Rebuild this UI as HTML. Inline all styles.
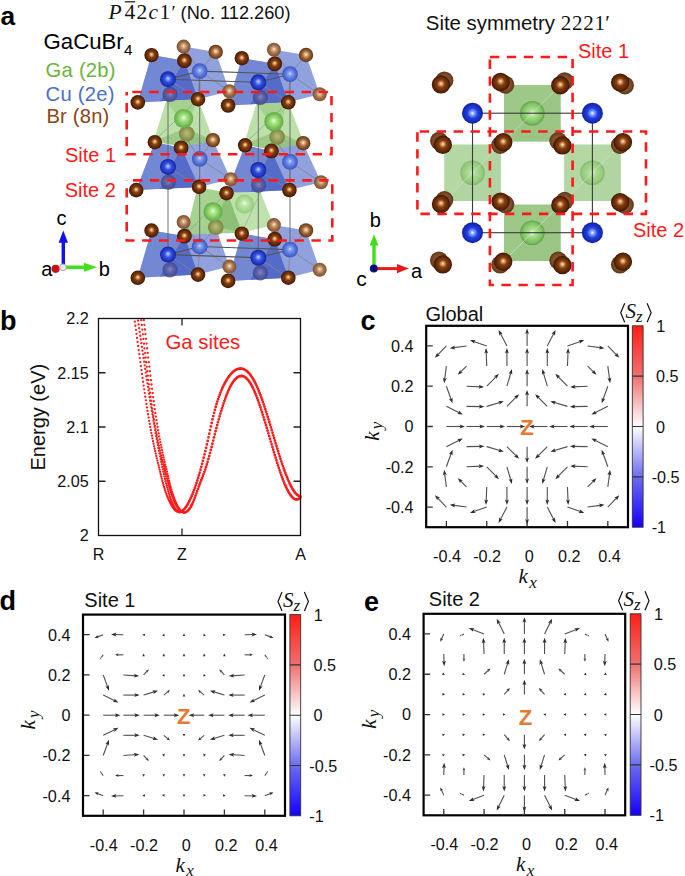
<!DOCTYPE html>
<html><head><meta charset="utf-8"><style>
html,body{margin:0;padding:0;background:#fff;}
svg{display:block;}
</style></head><body>
<svg width="685" height="876" viewBox="0 0 685 876">
<defs>
<radialGradient id="brD" cx="0.5" cy="0.5" r="0.5" fx="0.5" fy="0.45">
 <stop offset="0" stop-color="#fff4d8"/><stop offset="0.15" stop-color="#e2a46c"/><stop offset="0.42" stop-color="#86400f"/><stop offset="0.82" stop-color="#5a2406"/><stop offset="1" stop-color="#3a1503"/></radialGradient>
<radialGradient id="brM" cx="0.5" cy="0.5" r="0.5" fx="0.5" fy="0.45">
 <stop offset="0" stop-color="#fff6e4"/><stop offset="0.18" stop-color="#e6bb8c"/><stop offset="0.5" stop-color="#a66a3a"/><stop offset="0.9" stop-color="#6e3c18"/><stop offset="1" stop-color="#5a3012"/></radialGradient>
<radialGradient id="brL" cx="0.5" cy="0.5" r="0.5" fx="0.5" fy="0.45">
 <stop offset="0" stop-color="#fff4e6"/><stop offset="0.18" stop-color="#e0b890"/><stop offset="0.55" stop-color="#a97650"/><stop offset="1" stop-color="#7a4e30"/></radialGradient>
<radialGradient id="brB" cx="0.5" cy="0.5" r="0.5">
 <stop offset="0" stop-color="#a06a40"/><stop offset="0.7" stop-color="#7a4a28"/><stop offset="1" stop-color="#5a3418"/></radialGradient>
<radialGradient id="cuB" cx="0.5" cy="0.5" r="0.5" fx="0.5" fy="0.45">
 <stop offset="0" stop-color="#eef2ff"/><stop offset="0.14" stop-color="#8aa4ff"/><stop offset="0.45" stop-color="#3050e0"/><stop offset="0.85" stop-color="#1c30b8"/><stop offset="1" stop-color="#142490"/></radialGradient>
<radialGradient id="cuL" cx="0.5" cy="0.5" r="0.5" fx="0.5" fy="0.45">
 <stop offset="0" stop-color="#dde6ff"/><stop offset="0.2" stop-color="#8ca4f2"/><stop offset="0.6" stop-color="#5a78dc"/><stop offset="1" stop-color="#3c56c0"/></radialGradient>
<radialGradient id="cuD" cx="0.5" cy="0.5" r="0.5" fx="0.5" fy="0.45">
 <stop offset="0" stop-color="#8a8cc8"/><stop offset="0.5" stop-color="#5a5c9c"/><stop offset="1" stop-color="#3e4080"/></radialGradient>
<radialGradient id="gaB" cx="0.5" cy="0.5" r="0.5" fx="0.5" fy="0.45">
 <stop offset="0" stop-color="#f4fff0"/><stop offset="0.2" stop-color="#b8ee98"/><stop offset="0.6" stop-color="#86cc62"/><stop offset="1" stop-color="#62a848"/></radialGradient>
<radialGradient id="gaD" cx="0.5" cy="0.5" r="0.5" fx="0.5" fy="0.45">
 <stop offset="0" stop-color="#b8c07a"/><stop offset="0.6" stop-color="#949c54"/><stop offset="1" stop-color="#7a8240"/></radialGradient>
<radialGradient id="gaL" cx="0.5" cy="0.5" r="0.5" fx="0.5" fy="0.45">
 <stop offset="0" stop-color="#eeffe8"/><stop offset="0.3" stop-color="#bfe8a8"/><stop offset="1" stop-color="#94cc7c"/></radialGradient>
<radialGradient id="gaT" cx="0.5" cy="0.5" r="0.5" fx="0.5" fy="0.5">
 <stop offset="0" stop-color="#f4ffec"/><stop offset="0.25" stop-color="#ade494"/><stop offset="0.8" stop-color="#7cc25e"/><stop offset="1" stop-color="#5e9e46"/></radialGradient>
<radialGradient id="cuT" cx="0.5" cy="0.5" r="0.5" fx="0.5" fy="0.5">
 <stop offset="0" stop-color="#ffffff"/><stop offset="0.18" stop-color="#8aa8ff"/><stop offset="0.5" stop-color="#2040e0"/><stop offset="0.9" stop-color="#1426b0"/><stop offset="1" stop-color="#101e90"/></radialGradient>
<linearGradient id="cbg" x1="0" y1="0" x2="0" y2="1">
 <stop offset="0" stop-color="#ff1e14"/><stop offset="0.25" stop-color="#f07070"/><stop offset="0.5" stop-color="#ffffff"/><stop offset="0.75" stop-color="#6c6cf0"/><stop offset="1" stop-color="#1400ff"/></linearGradient>
</defs>
<rect width="685" height="876" fill="#fff"/>
<polygon points="151.50,55.10 184.40,60.70 183.60,46.60 215.70,51.90 229.40,91.20 198.00,99.20 137.80,102.40" fill="#8597da" fill-opacity="0.9" stroke="none" stroke-width="0"/>
<polygon points="151.50,55.10 184.40,60.70 198.00,99.20 137.80,102.40" fill="#6d84d4" fill-opacity="0.85" stroke="none" stroke-width="0"/>
<polygon points="184.40,60.70 198.00,99.20 160.00,101.20" fill="#4a62c6" fill-opacity="0.75" stroke="none" stroke-width="0"/>
<polygon points="241.80,58.20 274.70,63.80 273.90,49.70 306.00,55.00 319.70,94.30 288.30,102.30 228.10,105.50" fill="#8597da" fill-opacity="0.9" stroke="none" stroke-width="0"/>
<polygon points="241.80,58.20 274.70,63.80 288.30,102.30 228.10,105.50" fill="#6d84d4" fill-opacity="0.85" stroke="none" stroke-width="0"/>
<polygon points="274.70,63.80 288.30,102.30 250.30,104.30" fill="#4a62c6" fill-opacity="0.75" stroke="none" stroke-width="0"/>
<polygon points="154.80,142.20 181.10,147.80 183.60,134.30 212.90,140.10 230.70,179.20 199.10,186.90 136.20,190.10" fill="#8597da" fill-opacity="0.9" stroke="none" stroke-width="0"/>
<polygon points="154.80,142.20 181.10,147.80 199.10,186.90 136.20,190.10" fill="#6d84d4" fill-opacity="0.85" stroke="none" stroke-width="0"/>
<polygon points="181.10,147.80 199.10,186.90 160.00,188.90" fill="#4a62c6" fill-opacity="0.75" stroke="none" stroke-width="0"/>
<polygon points="245.10,145.30 271.40,150.90 273.90,137.40 303.20,143.20 321.00,182.30 289.40,190.00 226.50,193.20" fill="#8597da" fill-opacity="0.9" stroke="none" stroke-width="0"/>
<polygon points="245.10,145.30 271.40,150.90 289.40,190.00 226.50,193.20" fill="#6d84d4" fill-opacity="0.85" stroke="none" stroke-width="0"/>
<polygon points="271.40,150.90 289.40,190.00 250.30,192.00" fill="#4a62c6" fill-opacity="0.75" stroke="none" stroke-width="0"/>
<polygon points="151.50,230.50 184.40,236.10 183.60,222.00 215.70,227.30 229.40,266.60 198.00,274.60 137.80,277.80" fill="#8597da" fill-opacity="0.9" stroke="none" stroke-width="0"/>
<polygon points="151.50,230.50 184.40,236.10 198.00,274.60 137.80,277.80" fill="#6d84d4" fill-opacity="0.85" stroke="none" stroke-width="0"/>
<polygon points="184.40,236.10 198.00,274.60 160.00,276.60" fill="#4a62c6" fill-opacity="0.75" stroke="none" stroke-width="0"/>
<polygon points="241.80,233.60 274.70,239.20 273.90,225.10 306.00,230.40 319.70,269.70 288.30,277.70 228.10,280.90" fill="#8597da" fill-opacity="0.9" stroke="none" stroke-width="0"/>
<polygon points="241.80,233.60 274.70,239.20 288.30,277.70 228.10,280.90" fill="#6d84d4" fill-opacity="0.85" stroke="none" stroke-width="0"/>
<polygon points="274.70,239.20 288.30,277.70 250.30,279.70" fill="#4a62c6" fill-opacity="0.75" stroke="none" stroke-width="0"/>
<polygon points="166.00,101.00 198.00,99.20 213.50,140.50 182.00,146.50 153.50,141.50" fill="#b0da9a" fill-opacity="0.85" stroke="none" stroke-width="0"/>
<polygon points="166.00,101.00 198.00,99.20 186.00,128.00" fill="#8cc070" fill-opacity="0.45" stroke="none" stroke-width="0"/>
<polygon points="153.50,141.50 186.00,128.00 213.50,140.50 182.00,146.50" fill="#7fb466" fill-opacity="0.5" stroke="none" stroke-width="0"/>
<polygon points="256.30,104.10 288.30,102.30 303.80,143.60 272.30,149.60 243.80,144.60" fill="#b0da9a" fill-opacity="0.85" stroke="none" stroke-width="0"/>
<polygon points="256.30,104.10 288.30,102.30 276.30,131.10" fill="#8cc070" fill-opacity="0.45" stroke="none" stroke-width="0"/>
<polygon points="243.80,144.60 276.30,131.10 303.80,143.60 272.30,149.60" fill="#7fb466" fill-opacity="0.5" stroke="none" stroke-width="0"/>
<polygon points="197.50,187.30 227.30,192.50 260.50,192.00 273.50,225.00 242.00,232.80 186.00,234.50" fill="#b6dea2" fill-opacity="0.88" stroke="none" stroke-width="0"/>
<polygon points="197.50,187.30 227.30,192.50 242.00,232.80 186.00,234.50" fill="#98ca80" fill-opacity="0.6" stroke="none" stroke-width="0"/>
<polygon points="227.30,192.50 242.00,232.80 214.00,226.00" fill="#74ae5c" fill-opacity="0.5" stroke="none" stroke-width="0"/>
<path d="M168.00 79.20L168.00 254.60" stroke="#5c5c5c" stroke-width="1.0" stroke-opacity="0.85" fill="none"/>
<path d="M258.30 82.30L258.30 257.70" stroke="#5c5c5c" stroke-width="1.0" stroke-opacity="0.85" fill="none"/>
<path d="M290.00 74.20L290.00 249.60" stroke="#5c5c5c" stroke-width="1.0" stroke-opacity="0.85" fill="none"/>
<path d="M199.70 71.10L199.70 246.50" stroke="#5c5c5c" stroke-width="1.0" stroke-opacity="0.85" fill="none"/>
<path d="M151.50 55.10L168.00 79.20L198.00 99.20" stroke="#8a8a8a" stroke-width="0.8" stroke-opacity="0.9" fill="none"/>
<path d="M184.40 60.70L168.00 79.20L137.80 102.40" stroke="#8a8a8a" stroke-width="0.8" stroke-opacity="0.9" fill="none"/>
<path d="M183.60 46.60L199.70 71.10L229.40 91.20" stroke="#7a7a7a" stroke-width="0.8" stroke-opacity="0.8" fill="none"/>
<path d="M215.70 51.90L199.70 71.10L198.00 99.20" stroke="#7a7a7a" stroke-width="0.8" stroke-opacity="0.8" fill="none"/>
<path d="M241.80 58.20L258.30 82.30L288.30 102.30" stroke="#8a8a8a" stroke-width="0.8" stroke-opacity="0.9" fill="none"/>
<path d="M274.70 63.80L258.30 82.30L228.10 105.50" stroke="#8a8a8a" stroke-width="0.8" stroke-opacity="0.9" fill="none"/>
<path d="M273.90 49.70L290.00 74.20L319.70 94.30" stroke="#7a7a7a" stroke-width="0.8" stroke-opacity="0.8" fill="none"/>
<path d="M306.00 55.00L290.00 74.20L288.30 102.30" stroke="#7a7a7a" stroke-width="0.8" stroke-opacity="0.8" fill="none"/>
<path d="M154.80 142.20L168.00 166.90L199.10 186.90" stroke="#8a8a8a" stroke-width="0.8" stroke-opacity="0.9" fill="none"/>
<path d="M181.10 147.80L168.00 166.90L136.20 190.10" stroke="#8a8a8a" stroke-width="0.8" stroke-opacity="0.9" fill="none"/>
<path d="M183.60 134.30L199.70 158.80L230.70 179.20" stroke="#7a7a7a" stroke-width="0.8" stroke-opacity="0.8" fill="none"/>
<path d="M212.90 140.10L199.70 158.80L199.10 186.90" stroke="#7a7a7a" stroke-width="0.8" stroke-opacity="0.8" fill="none"/>
<path d="M245.10 145.30L258.30 170.00L289.40 190.00" stroke="#8a8a8a" stroke-width="0.8" stroke-opacity="0.9" fill="none"/>
<path d="M271.40 150.90L258.30 170.00L226.50 193.20" stroke="#8a8a8a" stroke-width="0.8" stroke-opacity="0.9" fill="none"/>
<path d="M273.90 137.40L290.00 161.90L321.00 182.30" stroke="#7a7a7a" stroke-width="0.8" stroke-opacity="0.8" fill="none"/>
<path d="M303.20 143.20L290.00 161.90L289.40 190.00" stroke="#7a7a7a" stroke-width="0.8" stroke-opacity="0.8" fill="none"/>
<path d="M151.50 230.50L168.00 254.60L198.00 274.60" stroke="#8a8a8a" stroke-width="0.8" stroke-opacity="0.9" fill="none"/>
<path d="M184.40 236.10L168.00 254.60L137.80 277.80" stroke="#8a8a8a" stroke-width="0.8" stroke-opacity="0.9" fill="none"/>
<path d="M183.60 222.00L199.70 246.50L229.40 266.60" stroke="#7a7a7a" stroke-width="0.8" stroke-opacity="0.8" fill="none"/>
<path d="M215.70 227.30L199.70 246.50L198.00 274.60" stroke="#7a7a7a" stroke-width="0.8" stroke-opacity="0.8" fill="none"/>
<path d="M241.80 233.60L258.30 257.70L288.30 277.70" stroke="#8a8a8a" stroke-width="0.8" stroke-opacity="0.9" fill="none"/>
<path d="M274.70 239.20L258.30 257.70L228.10 280.90" stroke="#8a8a8a" stroke-width="0.8" stroke-opacity="0.9" fill="none"/>
<path d="M273.90 225.10L290.00 249.60L319.70 269.70" stroke="#7a7a7a" stroke-width="0.8" stroke-opacity="0.8" fill="none"/>
<path d="M306.00 230.40L290.00 249.60L288.30 277.70" stroke="#7a7a7a" stroke-width="0.8" stroke-opacity="0.8" fill="none"/>
<path d="M168.00 79.20L258.30 82.30L290.00 74.20L199.70 71.10L168.00 79.20" stroke="#555" stroke-width="1.1" stroke-opacity="1.0" fill="none"/>
<path d="M168.00 254.60L258.30 257.70L290.00 249.60L199.70 246.50L168.00 254.60" stroke="#555" stroke-width="1.1" stroke-opacity="1.0" fill="none"/>
<path d="M153.50 141.50L198.00 99.20" stroke="#8a9a80" stroke-width="0.8" stroke-opacity="0.8" fill="none"/>
<path d="M243.80 144.60L288.30 102.30" stroke="#8a9a80" stroke-width="0.8" stroke-opacity="0.8" fill="none"/>
<path d="M184.40 235.40L226.80 192.80" stroke="#8a9a80" stroke-width="0.8" stroke-opacity="0.8" fill="none"/>
<path d="M242.00 232.40L260.50 192.00" stroke="#8a9a80" stroke-width="0.8" stroke-opacity="0.6" fill="none"/>
<circle cx="186.80" cy="133.80" r="7.8" fill="url(#gaD)"/>
<circle cx="183.60" cy="118.50" r="9.6" fill="url(#gaB)"/>
<circle cx="277.10" cy="136.90" r="7.8" fill="url(#gaD)"/>
<circle cx="273.90" cy="121.60" r="9.6" fill="url(#gaB)"/>
<circle cx="244.50" cy="204.00" r="9.6" fill="url(#gaL)"/>
<circle cx="215.70" cy="227.30" r="7.8" fill="url(#gaD)"/>
<circle cx="213.00" cy="211.80" r="9.6" fill="url(#gaB)"/>
<circle cx="183.60" cy="46.60" r="7.0" fill="url(#brL)"/>
<circle cx="229.40" cy="91.20" r="7.0" fill="url(#brL)"/>
<circle cx="199.70" cy="71.10" r="7.9" fill="url(#cuL)"/>
<circle cx="170.00" cy="94.40" r="7.6" fill="url(#cuD)" fill-opacity="0.8"/>
<circle cx="273.90" cy="49.70" r="7.0" fill="url(#brL)"/>
<circle cx="319.70" cy="94.30" r="7.0" fill="url(#brL)"/>
<circle cx="290.00" cy="74.20" r="7.9" fill="url(#cuL)"/>
<circle cx="260.30" cy="97.50" r="7.6" fill="url(#cuD)" fill-opacity="0.8"/>
<circle cx="230.70" cy="179.20" r="7.0" fill="url(#brL)"/>
<circle cx="199.70" cy="158.80" r="7.9" fill="url(#cuL)"/>
<circle cx="168.30" cy="182.10" r="7.6" fill="url(#cuD)" fill-opacity="0.8"/>
<circle cx="321.00" cy="182.30" r="7.0" fill="url(#brL)"/>
<circle cx="290.00" cy="161.90" r="7.9" fill="url(#cuL)"/>
<circle cx="258.60" cy="185.20" r="7.6" fill="url(#cuD)" fill-opacity="0.8"/>
<circle cx="183.60" cy="222.00" r="7.0" fill="url(#brL)"/>
<circle cx="229.40" cy="266.60" r="7.0" fill="url(#brL)"/>
<circle cx="199.70" cy="246.50" r="7.9" fill="url(#cuL)"/>
<circle cx="170.00" cy="269.80" r="7.6" fill="url(#cuD)" fill-opacity="0.8"/>
<circle cx="273.90" cy="225.10" r="7.0" fill="url(#brL)"/>
<circle cx="319.70" cy="269.70" r="7.0" fill="url(#brL)"/>
<circle cx="290.00" cy="249.60" r="7.9" fill="url(#cuL)"/>
<circle cx="260.30" cy="272.90" r="7.6" fill="url(#cuD)" fill-opacity="0.8"/>
<circle cx="168.00" cy="79.20" r="8.0" fill="url(#cuB)"/>
<circle cx="151.50" cy="55.10" r="7.2" fill="url(#brD)"/>
<circle cx="215.70" cy="51.90" r="7.2" fill="url(#brM)"/>
<circle cx="184.40" cy="60.70" r="7.4" fill="url(#brD)"/>
<circle cx="137.80" cy="102.40" r="7.3" fill="url(#brD)"/>
<circle cx="198.00" cy="99.20" r="7.3" fill="url(#brD)"/>
<circle cx="258.30" cy="82.30" r="8.0" fill="url(#cuB)"/>
<circle cx="241.80" cy="58.20" r="7.2" fill="url(#brD)"/>
<circle cx="306.00" cy="55.00" r="7.2" fill="url(#brM)"/>
<circle cx="274.70" cy="63.80" r="7.4" fill="url(#brD)"/>
<circle cx="228.10" cy="105.50" r="7.3" fill="url(#brD)"/>
<circle cx="288.30" cy="102.30" r="7.3" fill="url(#brD)"/>
<circle cx="168.00" cy="166.90" r="8.0" fill="url(#cuB)"/>
<circle cx="154.80" cy="142.20" r="7.2" fill="url(#brD)"/>
<circle cx="212.90" cy="140.10" r="7.2" fill="url(#brM)"/>
<circle cx="181.10" cy="147.80" r="7.4" fill="url(#brD)"/>
<circle cx="136.20" cy="190.10" r="7.3" fill="url(#brD)"/>
<circle cx="199.10" cy="186.90" r="7.3" fill="url(#brD)"/>
<circle cx="258.30" cy="170.00" r="8.0" fill="url(#cuB)"/>
<circle cx="245.10" cy="145.30" r="7.2" fill="url(#brD)"/>
<circle cx="303.20" cy="143.20" r="7.2" fill="url(#brM)"/>
<circle cx="271.40" cy="150.90" r="7.4" fill="url(#brD)"/>
<circle cx="226.50" cy="193.20" r="7.3" fill="url(#brD)"/>
<circle cx="289.40" cy="190.00" r="7.3" fill="url(#brD)"/>
<circle cx="168.00" cy="254.60" r="8.0" fill="url(#cuB)"/>
<circle cx="151.50" cy="230.50" r="7.2" fill="url(#brD)"/>
<circle cx="184.40" cy="236.10" r="7.4" fill="url(#brD)"/>
<circle cx="137.80" cy="277.80" r="7.3" fill="url(#brD)"/>
<circle cx="198.00" cy="274.60" r="7.3" fill="url(#brD)"/>
<circle cx="258.30" cy="257.70" r="8.0" fill="url(#cuB)"/>
<circle cx="241.80" cy="233.60" r="7.2" fill="url(#brD)"/>
<circle cx="306.00" cy="230.40" r="7.2" fill="url(#brM)"/>
<circle cx="274.70" cy="239.20" r="7.4" fill="url(#brD)"/>
<circle cx="228.10" cy="280.90" r="7.3" fill="url(#brD)"/>
<circle cx="288.30" cy="277.70" r="7.3" fill="url(#brD)"/>
<polygon points="504.00,84.90 560.60,84.90 560.60,141.50 504.00,141.50" fill="#9ec887" fill-opacity="1" stroke="none" stroke-width="0"/>
<polygon points="560.60,84.90 560.60,141.50 504.00,141.50" fill="#98c282" fill-opacity="0.5" stroke="none" stroke-width="0"/>
<polygon points="444.20,144.50 500.80,144.50 500.80,201.10 444.20,201.10" fill="#b4d8a4" fill-opacity="1" stroke="none" stroke-width="0"/>
<polygon points="500.80,144.50 500.80,201.10 444.20,201.10" fill="#aed29c" fill-opacity="0.5" stroke="none" stroke-width="0"/>
<polygon points="564.10,144.50 620.70,144.50 620.70,201.10 564.10,201.10" fill="#b4d8a4" fill-opacity="1" stroke="none" stroke-width="0"/>
<polygon points="620.70,144.50 620.70,201.10 564.10,201.10" fill="#aed29c" fill-opacity="0.5" stroke="none" stroke-width="0"/>
<polygon points="504.00,204.40 560.60,204.40 560.60,261.00 504.00,261.00" fill="#9ec887" fill-opacity="1" stroke="none" stroke-width="0"/>
<polygon points="560.60,204.40 560.60,261.00 504.00,261.00" fill="#98c282" fill-opacity="0.5" stroke="none" stroke-width="0"/>
<circle cx="532.3" cy="113.2" r="12.3" fill="url(#gaT)" fill-opacity="0.95"/>
<circle cx="472.5" cy="172.8" r="12.3" fill="url(#gaT)" fill-opacity="0.55"/>
<circle cx="592.4" cy="172.8" r="12.3" fill="url(#gaT)" fill-opacity="0.55"/>
<circle cx="532.3" cy="232.7" r="12.3" fill="url(#gaT)" fill-opacity="0.95"/>
<path d="M504.00 141.50L560.60 84.90" stroke="#d8e4d0" stroke-width="0.9" stroke-opacity="0.7" fill="none"/>
<path d="M444.20 201.10L500.80 144.50" stroke="#d8e4d0" stroke-width="0.9" stroke-opacity="0.7" fill="none"/>
<path d="M564.10 201.10L620.70 144.50" stroke="#d8e4d0" stroke-width="0.9" stroke-opacity="0.7" fill="none"/>
<path d="M504.00 261.00L560.60 204.40" stroke="#d8e4d0" stroke-width="0.9" stroke-opacity="0.7" fill="none"/>
<rect x="472.5" y="113.2" width="119.9" height="119.5" fill="none" stroke="#3a3a3a" stroke-width="1.1"/>
<circle cx="472.50" cy="113.20" r="10.5" fill="url(#cuT)"/>
<circle cx="592.40" cy="113.20" r="10.5" fill="url(#cuT)"/>
<circle cx="472.50" cy="232.70" r="10.5" fill="url(#cuT)"/>
<circle cx="592.40" cy="232.70" r="10.5" fill="url(#cuT)"/>
<circle cx="444.40" cy="80.40" r="9.0" fill="url(#brB)"/>
<circle cx="444.40" cy="200.00" r="9.0" fill="url(#brB)"/>
<circle cx="505.30" cy="84.70" r="9.0" fill="url(#brB)"/>
<circle cx="505.30" cy="204.30" r="9.0" fill="url(#brB)"/>
<circle cx="564.70" cy="81.20" r="9.0" fill="url(#brB)"/>
<circle cx="564.70" cy="200.80" r="9.0" fill="url(#brB)"/>
<circle cx="624.90" cy="85.40" r="9.0" fill="url(#brB)"/>
<circle cx="624.90" cy="205.00" r="9.0" fill="url(#brB)"/>
<circle cx="439.00" cy="140.80" r="9.0" fill="url(#brB)"/>
<circle cx="439.00" cy="260.40" r="9.0" fill="url(#brB)"/>
<circle cx="500.20" cy="145.00" r="9.0" fill="url(#brB)"/>
<circle cx="500.20" cy="264.60" r="9.0" fill="url(#brB)"/>
<circle cx="558.30" cy="141.00" r="9.0" fill="url(#brB)"/>
<circle cx="558.30" cy="260.60" r="9.0" fill="url(#brB)"/>
<circle cx="619.90" cy="145.00" r="9.0" fill="url(#brB)"/>
<circle cx="619.90" cy="264.60" r="9.0" fill="url(#brB)"/>
<circle cx="441.00" cy="84.40" r="9.2" fill="url(#brD)"/>
<circle cx="441.00" cy="204.00" r="9.2" fill="url(#brD)"/>
<circle cx="500.60" cy="82.00" r="9.2" fill="url(#brD)"/>
<circle cx="500.60" cy="201.60" r="9.2" fill="url(#brD)"/>
<circle cx="560.30" cy="85.30" r="9.2" fill="url(#brD)"/>
<circle cx="560.30" cy="204.90" r="9.2" fill="url(#brD)"/>
<circle cx="620.20" cy="82.60" r="9.2" fill="url(#brD)"/>
<circle cx="620.20" cy="202.20" r="9.2" fill="url(#brD)"/>
<circle cx="442.80" cy="144.80" r="9.2" fill="url(#brD)"/>
<circle cx="442.80" cy="264.40" r="9.2" fill="url(#brD)"/>
<circle cx="503.20" cy="142.20" r="9.2" fill="url(#brD)"/>
<circle cx="503.20" cy="261.80" r="9.2" fill="url(#brD)"/>
<circle cx="562.40" cy="145.40" r="9.2" fill="url(#brD)"/>
<circle cx="562.40" cy="265.00" r="9.2" fill="url(#brD)"/>
<circle cx="622.90" cy="142.20" r="9.2" fill="url(#brD)"/>
<circle cx="622.90" cy="261.80" r="9.2" fill="url(#brD)"/>
<rect x="126.7" y="92.0" width="204.8" height="62.19999999999999" fill="none" stroke="#ff1a1a" stroke-width="2.6" stroke-dasharray="9.4 7.53" stroke-dashoffset="11.33"/>
<rect x="126.7" y="180.4" width="205.60000000000002" height="60.099999999999994" fill="none" stroke="#ff1a1a" stroke-width="2.6" stroke-dasharray="9.4 7.53" stroke-dashoffset="10.6"/>
<rect x="489.9" y="57.0" width="82.70000000000005" height="228.0" fill="none" stroke="#ff1a1a" stroke-width="2.6" stroke-dasharray="9.4 7.53" stroke-dashoffset="0"/>
<rect x="417.4" y="131.5" width="228.60000000000002" height="82.4" fill="none" stroke="#ff1a1a" stroke-width="2.6" stroke-dasharray="9.4 7.53" stroke-dashoffset="14.6"/>
<text x="0.4" y="25.4" font-size="26.3" font-family="Liberation Sans, sans-serif" font-weight="bold" fill="#000">a</text>
<text x="108.5" y="18.7" font-size="21.5" letter-spacing="1.3" font-family="Liberation Serif, serif" fill="#111"><tspan font-style="italic">P</tspan><tspan dx="1.5">4</tspan><tspan>2</tspan><tspan font-style="italic">c</tspan><tspan>1</tspan><tspan font-size="19">′</tspan></text>
<path d="M124.8 1.8h10.4" stroke="#111" stroke-width="1.2"/>
<text x="180.6" y="18.7" font-size="18.2" font-family="Liberation Sans, sans-serif" fill="#111">(No. 112.260)</text>
<text x="43.6" y="49.0" font-size="22.2" font-family="Liberation Sans, sans-serif" fill="#000">GaCuBr<tspan font-size="15.2" dy="5.7" dx="0.3">4</tspan></text>
<text x="45.6" y="76.9" font-size="20.2" letter-spacing="0.25" font-family="Liberation Sans, sans-serif" fill="#6ab43c">Ga (2b)</text>
<text x="45.6" y="100.7" font-size="20.2" letter-spacing="0.25" font-family="Liberation Sans, sans-serif" fill="#4a70c8">Cu (2e)</text>
<text x="46.4" y="123.1" font-size="20.2" letter-spacing="0.2" font-family="Liberation Sans, sans-serif" fill="#8c4414">Br (8n)</text>
<text x="65.0" y="162.0" font-size="20" font-family="Liberation Sans, sans-serif" fill="#ff1a1a">Site 1</text>
<text x="64.7" y="196.7" font-size="20" font-family="Liberation Sans, sans-serif" fill="#ff1a1a">Site 2</text>
<text x="425.8" y="29.8" font-size="20.4" font-family="Liberation Sans, sans-serif" fill="#111">Site symmetry <tspan font-family="Liberation Serif, serif" font-size="21" dx="0" letter-spacing="0.8">2221</tspan><tspan font-family="Liberation Serif, serif" font-size="21" dx="-0.5">′</tspan></text>
<text x="578" y="58" font-size="20" font-family="Liberation Sans, sans-serif" fill="#ff1a1a">Site 1</text>
<text x="633" y="237.2" font-size="20" font-family="Liberation Sans, sans-serif" fill="#ff1a1a">Site 2</text>
<path d="M63.3 267.5V241" stroke="#1010f0" stroke-width="3.4"/>
<path d="M63.3 230.6L58.6 242.8H68Z" fill="#1010f0"/>
<path d="M66 267.3H85" stroke="#40e018" stroke-width="3.6"/>
<path d="M97 267.3L84 262.8V271.8Z" fill="#40e018"/>
<circle cx="55.6" cy="268.8" r="4.1" fill="#cc1010"/>
<circle cx="63" cy="267.3" r="3.4" fill="#e8e8e8" stroke="#999" stroke-width="0.8"/>
<text x="56.4" y="225.2" font-size="20" font-family="Liberation Sans, sans-serif" fill="#000">c</text>
<text x="98.8" y="276.2" font-size="20" font-family="Liberation Sans, sans-serif" fill="#000">b</text>
<text x="41.2" y="276.4" font-size="20" font-family="Liberation Sans, sans-serif" fill="#000">a</text>
<path d="M374 267V244" stroke="#40e018" stroke-width="3.4"/>
<path d="M374 234.2L369.6 245.5H378.4Z" fill="#40e018"/>
<path d="M376 268.6H398" stroke="#e81a1a" stroke-width="3"/>
<path d="M408.8 268.6L397 264V273.2Z" fill="#e81a1a"/>
<circle cx="373.8" cy="268.6" r="4" fill="#1010a0"/>
<path d="M375.4 266.4a2 2 0 1 0 0 4.2" stroke="#000" stroke-width="1.4" fill="none"/>
<text x="369.7" y="226.6" font-size="20" font-family="Liberation Sans, sans-serif" fill="#000">b</text>
<text x="411" y="277.6" font-size="20" font-family="Liberation Sans, sans-serif" fill="#000">a</text>
<text x="356.2" y="285.6" font-size="21" font-family="Liberation Sans, sans-serif" fill="#000">c</text>
<path d="M134.85 321.70h0M135.40 325.73h0M135.95 329.78h0M136.50 333.83h0M137.05 337.89h0M137.60 341.94h0M138.15 346.00h0M138.70 350.05h0M139.25 354.08h0M139.80 358.11h0M140.35 362.11h0M140.90 366.10h0M141.45 370.05h0M142.00 373.98h0M142.55 377.88h0M143.10 381.74h0M143.65 385.56h0M144.20 389.33h0M144.75 393.06h0M145.30 396.74h0M145.85 400.37h0M146.40 403.94h0M146.95 407.45h0M147.50 410.89h0M148.05 414.26h0M148.60 417.57h0M149.15 420.80h0M149.70 423.95h0M150.25 427.02h0M150.80 430.00h0M151.35 432.90h0M151.90 435.72h0M152.45 438.46h0M153.00 441.13h0M153.55 443.73h0M154.10 446.28h0M154.65 448.77h0M155.20 451.22h0M155.75 453.62h0M156.30 455.98h0M156.85 458.32h0M157.40 460.62h0M157.95 462.91h0M158.50 465.18h0M159.05 467.45h0M159.60 469.71h0M160.15 471.97h0M160.70 474.24h0M161.25 476.49h0M161.80 478.72h0M162.35 480.90h0M162.90 483.01h0M163.45 485.02h0M164.00 486.94h0M164.55 488.74h0M165.10 490.44h0M165.65 492.05h0M166.20 493.58h0M166.75 495.04h0M167.30 496.43h0M167.85 497.76h0M168.40 499.05h0M168.95 500.28h0M169.50 501.47h0M170.05 502.61h0M170.60 503.69h0M171.15 504.72h0M171.70 505.68h0M172.25 506.59h0M172.80 507.43h0M173.35 508.21h0M173.90 508.92h0M174.45 509.56h0M175.00 510.13h0M175.55 510.62h0M176.10 511.04h0M176.65 511.39h0M177.20 511.66h0M177.75 511.86h0M178.30 511.99h0M178.85 512.05h0M179.40 512.04h0M138.06 320.62h0M138.61 324.41h0M139.16 328.19h0M139.71 331.96h0M140.26 335.73h0M140.81 339.48h0M141.36 343.22h0M141.91 346.95h0M142.46 350.67h0M143.01 354.37h0M143.56 358.05h0M144.11 361.72h0M144.66 365.37h0M145.21 369.00h0M145.76 372.61h0M146.31 376.21h0M146.86 379.78h0M147.41 383.32h0M147.96 386.85h0M148.51 390.35h0M149.06 393.82h0M149.61 397.27h0M150.16 400.69h0M150.71 404.08h0M151.26 407.44h0M151.81 410.77h0M152.36 414.07h0M152.91 417.33h0M153.46 420.57h0M154.01 423.76h0M154.56 426.93h0M155.11 430.05h0M155.66 433.14h0M156.21 436.19h0M156.76 439.20h0M157.31 442.17h0M157.86 445.09h0M158.41 447.98h0M158.96 450.82h0M159.51 453.62h0M160.06 456.37h0M160.61 459.07h0M161.16 461.73h0M161.71 464.34h0M162.26 466.90h0M162.81 469.40h0M163.36 471.86h0M163.91 474.26h0M164.46 476.61h0M165.01 478.90h0M165.56 481.14h0M166.11 483.31h0M166.66 485.42h0M167.21 487.47h0M167.76 489.45h0M168.31 491.36h0M168.86 493.20h0M169.41 494.97h0M169.96 496.66h0M170.51 498.28h0M171.06 499.82h0M171.61 501.28h0M172.16 502.65h0M172.71 503.94h0M173.26 505.15h0M173.81 506.26h0M174.36 507.28h0M174.91 508.22h0M175.46 509.05h0M176.01 509.79h0M176.56 510.43h0M177.11 510.98h0M177.66 511.43h0M178.21 511.79h0M178.76 512.06h0M179.31 512.24h0M141.23 320.22h0M141.78 324.90h0M142.33 329.60h0M142.88 334.30h0M143.43 339.01h0M143.98 343.70h0M144.53 348.38h0M145.08 353.04h0M145.63 357.66h0M146.18 362.25h0M146.73 366.79h0M147.28 371.27h0M147.83 375.70h0M148.38 380.05h0M148.93 384.34h0M149.48 388.56h0M150.03 392.70h0M150.58 396.75h0M151.13 400.73h0M151.68 404.61h0M152.23 408.41h0M152.78 412.10h0M153.33 415.70h0M153.88 419.20h0M154.43 422.59h0M154.98 425.87h0M155.53 429.03h0M156.08 432.08h0M156.63 435.02h0M157.18 437.86h0M157.73 440.59h0M158.28 443.23h0M158.83 445.80h0M159.38 448.28h0M159.93 450.69h0M160.48 453.04h0M161.03 455.34h0M161.58 457.59h0M162.13 459.79h0M162.68 461.96h0M163.23 464.10h0M163.78 466.22h0M164.33 468.33h0M164.88 470.42h0M165.43 472.52h0M165.98 474.62h0M166.53 476.72h0M167.08 478.80h0M167.63 480.86h0M168.18 482.89h0M168.73 484.89h0M169.28 486.84h0M169.83 488.75h0M170.38 490.60h0M170.93 492.39h0M171.48 494.11h0M172.03 495.76h0M172.58 497.32h0M173.13 498.79h0M173.68 500.17h0M174.23 501.46h0M174.78 502.67h0M175.33 503.81h0M175.88 504.88h0M176.43 505.89h0M176.98 506.82h0M177.53 507.69h0M178.08 508.49h0M178.63 509.22h0M179.18 509.88h0M179.73 510.47h0M180.28 510.98h0M180.83 511.43h0M181.38 511.81h0M181.93 512.11h0M182.48 512.35h0M183.03 512.51h0M183.58 512.59h0M184.13 512.61h0M143.83 320.15h0M144.38 324.81h0M144.93 329.48h0M145.48 334.17h0M146.03 338.86h0M146.58 343.55h0M147.13 348.23h0M147.68 352.90h0M148.23 357.54h0M148.78 362.15h0M149.33 366.72h0M149.88 371.25h0M150.43 375.73h0M150.98 380.15h0M151.53 384.51h0M152.08 388.80h0M152.63 393.02h0M153.18 397.17h0M153.73 401.23h0M154.28 405.21h0M154.83 409.10h0M155.38 412.89h0M155.93 416.58h0M156.48 420.17h0M157.03 423.65h0M157.58 427.01h0M158.13 430.25h0M158.68 433.38h0M159.23 436.39h0M159.78 439.29h0M160.33 442.11h0M160.88 444.83h0M161.43 447.48h0M161.98 450.05h0M162.53 452.57h0M163.08 455.04h0M163.63 457.46h0M164.18 459.84h0M164.73 462.20h0M165.28 464.54h0M165.83 466.88h0M166.38 469.21h0M166.93 471.55h0M167.48 473.91h0M168.03 476.26h0M168.58 478.60h0M169.13 480.91h0M169.68 483.16h0M170.23 485.34h0M170.78 487.42h0M171.33 489.42h0M171.88 491.32h0M172.43 493.13h0M172.98 494.86h0M173.53 496.49h0M174.08 498.04h0M174.63 499.50h0M175.18 500.89h0M175.73 502.19h0M176.28 503.41h0M176.83 504.56h0M177.38 505.63h0M177.93 506.63h0M178.48 507.55h0M179.03 508.40h0M179.58 509.18h0M180.13 509.87h0M180.68 510.49h0M181.23 511.03h0M181.78 511.49h0M182.33 511.87h0M182.88 512.16h0M183.43 512.38h0M183.98 512.52h0" stroke="#ff1a1a" stroke-width="2.3" stroke-linecap="round" fill="none"/>
<path d="M179.70 512.01h0M180.50 511.82h0M181.30 511.49h0M182.10 511.03h0M182.90 510.43h0M183.70 509.70h0M184.50 508.85h0M185.30 507.87h0M186.10 506.78h0M186.90 505.56h0M187.70 504.23h0M188.50 502.79h0M189.30 501.25h0M190.10 499.59h0M190.90 497.84h0M191.70 495.99h0M192.50 494.04h0M193.30 492.00h0M194.10 489.87h0M194.90 487.66h0M195.70 485.35h0M196.50 482.95h0M197.30 480.48h0M198.10 477.91h0M198.90 475.26h0M199.70 472.53h0M200.50 469.72h0M201.30 466.82h0M202.10 463.85h0M202.90 460.80h0M203.70 457.67h0M204.50 454.46h0M205.30 451.18h0M206.10 447.83h0M206.90 444.40h0M207.70 440.90h0M208.50 437.32h0M209.30 433.70h0M210.10 430.07h0M210.90 426.45h0M211.70 422.89h0M212.50 419.41h0M213.30 416.06h0M214.10 412.86h0M214.90 409.82h0M215.70 406.94h0M216.50 404.20h0M217.30 401.61h0M218.10 399.15h0M218.90 396.83h0M219.70 394.63h0M220.50 392.55h0M221.30 390.59h0M222.10 388.74h0M222.90 386.98h0M223.70 385.33h0M224.50 383.77h0M225.30 382.30h0M226.10 380.90h0M226.90 379.58h0M227.70 378.33h0M228.50 377.16h0M229.30 376.06h0M230.10 375.03h0M230.90 374.07h0M231.70 373.19h0M232.50 372.38h0M233.30 371.64h0M234.10 370.99h0M234.90 370.41h0M235.70 369.90h0M236.50 369.48h0M237.30 369.13h0M238.10 368.86h0M238.90 368.66h0M239.70 368.55h0M240.50 368.52h0M241.30 368.57h0M242.10 368.70h0M242.90 368.91h0M243.70 369.21h0M244.50 369.58h0M245.30 370.04h0M246.10 370.59h0M246.90 371.22h0M247.70 371.93h0M248.50 372.73h0M249.30 373.62h0M250.10 374.59h0M250.90 375.65h0M251.70 376.79h0M252.50 378.03h0M253.30 379.35h0M254.10 380.77h0M254.90 382.27h0M255.70 383.86h0M256.50 385.55h0M257.30 387.32h0M258.10 389.19h0M258.90 391.14h0M259.70 393.16h0M260.50 395.26h0M261.30 397.43h0M262.10 399.67h0M262.90 401.96h0M263.70 404.31h0M264.50 406.72h0M265.30 409.17h0M266.10 411.67h0M266.90 414.20h0M267.70 416.77h0M268.50 419.36h0M269.30 421.99h0M270.10 424.63h0M270.90 427.29h0M271.70 429.96h0M272.50 432.64h0M273.30 435.32h0M274.10 438.00h0M274.90 440.68h0M275.70 443.34h0M276.50 445.99h0M277.30 448.62h0M278.10 451.22h0M278.90 453.80h0M279.70 456.34h0M280.50 458.85h0M281.30 461.31h0M282.10 463.73h0M282.90 466.10h0M283.70 468.41h0M284.50 470.66h0M285.30 472.85h0M286.10 474.97h0M286.90 477.02h0M287.70 478.98h0M288.50 480.87h0M289.30 482.67h0M290.10 484.38h0M290.90 486.00h0M291.70 487.51h0M292.50 488.92h0M293.30 490.22h0M294.10 491.41h0M294.90 492.48h0M295.70 493.43h0M296.50 494.25h0M297.30 494.94h0M298.10 495.50h0M298.90 495.91h0M299.70 496.18h0M300.50 496.30h0M184.40 512.58h0M185.20 512.42h0M186.00 512.09h0M186.80 511.61h0M187.60 510.96h0M188.40 510.15h0M189.20 509.18h0M190.00 508.04h0M190.80 506.74h0M191.60 505.27h0M192.40 503.63h0M193.20 501.82h0M194.00 499.85h0M194.80 497.76h0M195.60 495.58h0M196.40 493.34h0M197.20 491.07h0M198.00 488.80h0M198.80 486.57h0M199.60 484.41h0M200.40 482.32h0M201.20 480.27h0M202.00 478.23h0M202.80 476.17h0M203.60 474.06h0M204.40 471.86h0M205.20 469.55h0M206.00 467.09h0M206.80 464.50h0M207.60 461.78h0M208.40 458.96h0M209.20 456.04h0M210.00 453.05h0M210.80 450.00h0M211.60 446.89h0M212.40 443.76h0M213.20 440.62h0M214.00 437.47h0M214.80 434.34h0M215.60 431.23h0M216.40 428.17h0M217.20 425.16h0M218.00 422.20h0M218.80 419.29h0M219.60 416.44h0M220.40 413.66h0M221.20 410.95h0M222.00 408.32h0M222.80 405.77h0M223.60 403.30h0M224.40 400.93h0M225.20 398.65h0M226.00 396.48h0M226.80 394.41h0M227.60 392.45h0M228.40 390.60h0M229.20 388.86h0M230.00 387.23h0M230.80 385.71h0M231.60 384.29h0M232.40 382.99h0M233.20 381.80h0M234.00 380.71h0M234.80 379.74h0M235.60 378.88h0M236.40 378.13h0M237.20 377.49h0M238.00 376.97h0M238.80 376.55h0M239.60 376.25h0M240.40 376.06h0M241.20 375.99h0M242.00 376.02h0M242.80 376.18h0M243.60 376.44h0M244.40 376.82h0M245.20 377.31h0M246.00 377.92h0M246.80 378.64h0M247.60 379.48h0M248.40 380.43h0M249.20 381.50h0M250.00 382.68h0M250.80 383.98h0M251.60 385.40h0M252.40 386.93h0M253.20 388.56h0M254.00 390.30h0M254.80 392.13h0M255.60 394.05h0M256.40 396.06h0M257.20 398.16h0M258.00 400.33h0M258.80 402.57h0M259.60 404.88h0M260.40 407.26h0M261.20 409.69h0M262.00 412.17h0M262.80 414.70h0M263.60 417.28h0M264.40 419.89h0M265.20 422.54h0M266.00 425.21h0M266.80 427.91h0M267.60 430.63h0M268.40 433.36h0M269.20 436.10h0M270.00 438.84h0M270.80 441.58h0M271.60 444.32h0M272.40 447.04h0M273.20 449.75h0M274.00 452.44h0M274.80 455.10h0M275.60 457.74h0M276.40 460.34h0M277.20 462.89h0M278.00 465.41h0M278.80 467.87h0M279.60 470.28h0M280.40 472.62h0M281.20 474.91h0M282.00 477.12h0M282.80 479.26h0M283.60 481.32h0M284.40 483.30h0M285.20 485.18h0M286.00 486.98h0M286.80 488.67h0M287.60 490.26h0M288.40 491.74h0M289.20 493.11h0M290.00 494.36h0M290.80 495.49h0M291.60 496.49h0M292.40 497.35h0M293.20 498.08h0M294.00 498.66h0M294.80 499.10h0M295.60 499.38h0M296.40 499.51h0M297.20 499.47h0M298.00 499.27h0M298.80 498.89h0M299.60 498.34h0M300.40 497.60h0" stroke="#ff1a1a" stroke-width="2.8" stroke-linecap="round" fill="none"/>
<rect x="98.5" y="318.5" width="202.0" height="217.0" fill="none" stroke="#111" stroke-width="1.3"/>
<path d="M98.5 372.75h7M300.5 372.75h-7" stroke="#222" stroke-width="1.3"/>
<path d="M98.5 427.00h7M300.5 427.00h-7" stroke="#222" stroke-width="1.3"/>
<path d="M98.5 481.25h7M300.5 481.25h-7" stroke="#222" stroke-width="1.3"/>
<path d="M182 318.5v7M182 535.5v-7" stroke="#222" stroke-width="1.3"/>
<text x="88.80" y="324.40" font-size="16.2" font-family="Liberation Sans, sans-serif" fill="#111" text-anchor="end" >2.2</text>
<text x="88.80" y="378.65" font-size="16.2" font-family="Liberation Sans, sans-serif" fill="#111" text-anchor="end" >2.15</text>
<text x="88.80" y="432.90" font-size="16.2" font-family="Liberation Sans, sans-serif" fill="#111" text-anchor="end" >2.1</text>
<text x="88.80" y="487.15" font-size="16.2" font-family="Liberation Sans, sans-serif" fill="#111" text-anchor="end" >2.05</text>
<text x="88.80" y="541.40" font-size="16.2" font-family="Liberation Sans, sans-serif" fill="#111" text-anchor="end" >2</text>
<text x="98.60" y="560.40" font-size="16" font-family="Liberation Sans, sans-serif" fill="#111" text-anchor="middle" >R</text>
<text x="182.00" y="560.40" font-size="16" font-family="Liberation Sans, sans-serif" fill="#111" text-anchor="middle" >Z</text>
<text x="300.50" y="560.40" font-size="16" font-family="Liberation Sans, sans-serif" fill="#111" text-anchor="middle" >A</text>
<text transform="translate(45.3 417.2) rotate(-90)" font-size="20" font-family="Liberation Sans, sans-serif" text-anchor="middle" fill="#111">Energy (eV)</text>
<text x="165.40" y="348.60" font-size="20.4" font-family="Liberation Sans, sans-serif" fill="#ff1a1a" text-anchor="start" >Ga sites</text>
<text x="0.00" y="329.80" font-size="27" font-family="Liberation Sans, sans-serif" fill="#000" text-anchor="start" font-weight="bold">b</text>
<path d="M446.38 345.94L436.57 356.10" stroke="#505050" stroke-width="1.1" fill="none"/><path d="M434.90 357.83L437.25 352.59L437.82 354.81L440.06 355.30Z" fill="#2e2e2e"/><path d="M446.38 507.06L436.57 496.90" stroke="#505050" stroke-width="1.1" fill="none"/><path d="M434.90 495.17L440.06 497.70L437.82 498.19L437.25 500.41Z" fill="#2e2e2e"/><path d="M607.82 345.94L617.63 356.10" stroke="#505050" stroke-width="1.1" fill="none"/><path d="M619.30 357.83L614.14 355.30L616.38 354.81L616.95 352.59Z" fill="#2e2e2e"/><path d="M607.82 507.06L617.63 496.90" stroke="#505050" stroke-width="1.1" fill="none"/><path d="M619.30 495.17L616.95 500.41L616.38 498.19L614.14 497.70Z" fill="#2e2e2e"/><path d="M466.56 345.94L452.14 347.87" stroke="#505050" stroke-width="1.1" fill="none"/><path d="M449.76 348.19L454.86 345.54L453.93 347.63L455.37 349.41Z" fill="#2e2e2e"/><path d="M466.56 507.06L452.14 505.13" stroke="#505050" stroke-width="1.1" fill="none"/><path d="M449.76 504.81L455.37 503.59L453.93 505.37L454.86 507.46Z" fill="#2e2e2e"/><path d="M587.64 345.94L602.06 347.87" stroke="#505050" stroke-width="1.1" fill="none"/><path d="M604.44 348.19L598.83 349.41L600.27 347.63L599.34 345.54Z" fill="#2e2e2e"/><path d="M587.64 507.06L602.06 505.13" stroke="#505050" stroke-width="1.1" fill="none"/><path d="M604.44 504.81L599.34 507.46L600.27 505.37L598.83 503.59Z" fill="#2e2e2e"/><path d="M486.74 345.94L472.23 340.90" stroke="#505050" stroke-width="1.1" fill="none"/><path d="M469.96 340.11L475.70 340.04L473.93 341.49L474.42 343.72Z" fill="#2e2e2e"/><path d="M486.74 507.06L472.23 512.10" stroke="#505050" stroke-width="1.1" fill="none"/><path d="M469.96 512.89L474.42 509.28L473.93 511.51L475.70 512.96Z" fill="#2e2e2e"/><path d="M567.46 345.94L581.97 340.90" stroke="#505050" stroke-width="1.1" fill="none"/><path d="M584.24 340.11L579.78 343.72L580.27 341.49L578.50 340.04Z" fill="#2e2e2e"/><path d="M567.46 507.06L581.97 512.10" stroke="#505050" stroke-width="1.1" fill="none"/><path d="M584.24 512.89L578.50 512.96L580.27 511.51L579.78 509.28Z" fill="#2e2e2e"/><path d="M506.92 345.94L499.65 332.11" stroke="#505050" stroke-width="1.1" fill="none"/><path d="M498.53 329.99L502.77 333.86L500.49 333.70L499.32 335.67Z" fill="#2e2e2e"/><path d="M506.92 507.06L499.65 520.89" stroke="#505050" stroke-width="1.1" fill="none"/><path d="M498.53 523.01L499.32 517.33L500.49 519.30L502.77 519.14Z" fill="#2e2e2e"/><path d="M547.28 345.94L554.55 332.11" stroke="#505050" stroke-width="1.1" fill="none"/><path d="M555.67 329.99L554.88 335.67L553.71 333.70L551.43 333.86Z" fill="#2e2e2e"/><path d="M547.28 507.06L554.55 520.89" stroke="#505050" stroke-width="1.1" fill="none"/><path d="M555.67 523.01L551.43 519.14L553.71 519.30L554.88 517.33Z" fill="#2e2e2e"/><path d="M527.10 345.94L527.10 330.94" stroke="#505050" stroke-width="1.1" fill="none"/><path d="M527.10 328.54L529.05 333.94L527.10 332.74L525.15 333.94Z" fill="#2e2e2e"/><path d="M527.10 507.06L527.10 522.06" stroke="#505050" stroke-width="1.1" fill="none"/><path d="M527.10 524.46L525.15 519.06L527.10 520.26L529.05 519.06Z" fill="#2e2e2e"/><path d="M446.38 366.08L444.44 380.80" stroke="#505050" stroke-width="1.1" fill="none"/><path d="M444.13 383.18L442.90 377.57L444.68 379.01L446.77 378.08Z" fill="#2e2e2e"/><path d="M446.38 486.92L444.44 472.20" stroke="#505050" stroke-width="1.1" fill="none"/><path d="M444.13 469.82L446.77 474.92L444.68 473.99L442.90 475.43Z" fill="#2e2e2e"/><path d="M607.82 366.08L609.76 380.80" stroke="#505050" stroke-width="1.1" fill="none"/><path d="M610.07 383.18L607.43 378.08L609.52 379.01L611.30 377.57Z" fill="#2e2e2e"/><path d="M607.82 486.92L609.76 472.20" stroke="#505050" stroke-width="1.1" fill="none"/><path d="M610.07 469.82L611.30 475.43L609.52 473.99L607.43 474.92Z" fill="#2e2e2e"/><path d="M466.56 366.08L459.47 373.17" stroke="#505050" stroke-width="1.1" fill="none"/><path d="M457.78 374.86L460.22 369.67L460.75 371.89L462.97 372.42Z" fill="#2e2e2e"/><path d="M466.56 486.92L459.47 479.83" stroke="#505050" stroke-width="1.1" fill="none"/><path d="M457.78 478.14L462.97 480.58L460.75 481.11L460.22 483.33Z" fill="#2e2e2e"/><path d="M587.64 366.08L594.73 373.17" stroke="#505050" stroke-width="1.1" fill="none"/><path d="M596.42 374.86L591.23 372.42L593.45 371.89L593.98 369.67Z" fill="#2e2e2e"/><path d="M587.64 486.92L594.73 479.83" stroke="#505050" stroke-width="1.1" fill="none"/><path d="M596.42 478.14L593.98 483.33L593.45 481.11L591.23 480.58Z" fill="#2e2e2e"/><path d="M486.74 366.08L486.12 350.48" stroke="#505050" stroke-width="1.1" fill="none"/><path d="M486.02 348.08L488.19 353.40L486.19 352.28L484.29 353.55Z" fill="#2e2e2e"/><path d="M486.74 486.92L486.12 502.52" stroke="#505050" stroke-width="1.1" fill="none"/><path d="M486.02 504.92L484.29 499.45L486.19 500.72L488.19 499.60Z" fill="#2e2e2e"/><path d="M567.46 366.08L568.08 350.48" stroke="#505050" stroke-width="1.1" fill="none"/><path d="M568.18 348.08L569.91 353.55L568.01 352.28L566.01 353.40Z" fill="#2e2e2e"/><path d="M567.46 486.92L568.08 502.52" stroke="#505050" stroke-width="1.1" fill="none"/><path d="M568.18 504.92L566.01 499.60L568.01 500.72L569.91 499.45Z" fill="#2e2e2e"/><path d="M506.92 366.08L506.92 350.48" stroke="#505050" stroke-width="1.1" fill="none"/><path d="M506.92 348.08L508.87 353.48L506.92 352.28L504.97 353.48Z" fill="#2e2e2e"/><path d="M506.92 486.92L506.92 502.52" stroke="#505050" stroke-width="1.1" fill="none"/><path d="M506.92 504.92L504.97 499.52L506.92 500.72L508.87 499.52Z" fill="#2e2e2e"/><path d="M547.28 366.08L547.28 350.48" stroke="#505050" stroke-width="1.1" fill="none"/><path d="M547.28 348.08L549.23 353.48L547.28 352.28L545.33 353.48Z" fill="#2e2e2e"/><path d="M547.28 486.92L547.28 502.52" stroke="#505050" stroke-width="1.1" fill="none"/><path d="M547.28 504.92L545.33 499.52L547.28 500.72L549.23 499.52Z" fill="#2e2e2e"/><path d="M527.10 366.08L527.10 350.48" stroke="#505050" stroke-width="1.1" fill="none"/><path d="M527.10 348.08L529.05 353.48L527.10 352.28L525.15 353.48Z" fill="#2e2e2e"/><path d="M527.10 486.92L527.10 502.52" stroke="#505050" stroke-width="1.1" fill="none"/><path d="M527.10 504.92L525.15 499.52L527.10 500.72L529.05 499.52Z" fill="#2e2e2e"/><path d="M446.38 386.22L451.70 401.04" stroke="#505050" stroke-width="1.1" fill="none"/><path d="M452.52 403.30L448.85 398.87L451.10 399.34L452.52 397.56Z" fill="#2e2e2e"/><path d="M446.38 466.78L451.70 451.96" stroke="#505050" stroke-width="1.1" fill="none"/><path d="M452.52 449.70L452.52 455.44L451.10 453.66L448.85 454.13Z" fill="#2e2e2e"/><path d="M607.82 386.22L602.50 401.04" stroke="#505050" stroke-width="1.1" fill="none"/><path d="M601.68 403.30L601.68 397.56L603.10 399.34L605.35 398.87Z" fill="#2e2e2e"/><path d="M607.82 466.78L602.50 451.96" stroke="#505050" stroke-width="1.1" fill="none"/><path d="M601.68 449.70L605.35 454.13L603.10 453.66L601.68 455.44Z" fill="#2e2e2e"/><path d="M466.56 386.22L481.66 386.84" stroke="#505050" stroke-width="1.1" fill="none"/><path d="M484.06 386.94L478.58 388.66L479.86 386.76L478.74 384.77Z" fill="#2e2e2e"/><path d="M466.56 466.78L481.66 466.16" stroke="#505050" stroke-width="1.1" fill="none"/><path d="M484.06 466.06L478.74 468.23L479.86 466.24L478.58 464.34Z" fill="#2e2e2e"/><path d="M587.64 386.22L572.54 386.84" stroke="#505050" stroke-width="1.1" fill="none"/><path d="M570.14 386.94L575.46 384.77L574.34 386.76L575.62 388.66Z" fill="#2e2e2e"/><path d="M587.64 466.78L572.54 466.16" stroke="#505050" stroke-width="1.1" fill="none"/><path d="M570.14 466.06L575.62 464.34L574.34 466.24L575.46 468.23Z" fill="#2e2e2e"/><path d="M486.74 386.22L497.24 375.55" stroke="#505050" stroke-width="1.1" fill="none"/><path d="M498.92 373.83L496.52 379.05L495.98 376.83L493.74 376.32Z" fill="#2e2e2e"/><path d="M486.74 466.78L497.24 477.45" stroke="#505050" stroke-width="1.1" fill="none"/><path d="M498.92 479.17L493.74 476.68L495.98 476.17L496.52 473.95Z" fill="#2e2e2e"/><path d="M567.46 386.22L556.96 375.55" stroke="#505050" stroke-width="1.1" fill="none"/><path d="M555.28 373.83L560.46 376.32L558.22 376.83L557.68 379.05Z" fill="#2e2e2e"/><path d="M567.46 466.78L556.96 477.45" stroke="#505050" stroke-width="1.1" fill="none"/><path d="M555.28 479.17L557.68 473.95L558.22 476.17L560.46 476.68Z" fill="#2e2e2e"/><path d="M506.92 386.22L511.26 371.34" stroke="#505050" stroke-width="1.1" fill="none"/><path d="M511.93 369.04L512.29 374.77L510.76 373.07L508.55 373.67Z" fill="#2e2e2e"/><path d="M506.92 466.78L511.26 481.66" stroke="#505050" stroke-width="1.1" fill="none"/><path d="M511.93 483.96L508.55 479.33L510.76 479.93L512.29 478.23Z" fill="#2e2e2e"/><path d="M547.28 386.22L542.94 371.34" stroke="#505050" stroke-width="1.1" fill="none"/><path d="M542.27 369.04L545.65 373.67L543.44 373.07L541.91 374.77Z" fill="#2e2e2e"/><path d="M547.28 466.78L542.94 481.66" stroke="#505050" stroke-width="1.1" fill="none"/><path d="M542.27 483.96L541.91 478.23L543.44 479.93L545.65 479.33Z" fill="#2e2e2e"/><path d="M527.10 386.22L527.10 371.42" stroke="#505050" stroke-width="1.1" fill="none"/><path d="M527.10 369.02L529.05 374.42L527.10 373.22L525.15 374.42Z" fill="#2e2e2e"/><path d="M527.10 466.78L527.10 481.58" stroke="#505050" stroke-width="1.1" fill="none"/><path d="M527.10 483.98L525.15 478.58L527.10 479.78L529.05 478.58Z" fill="#2e2e2e"/><path d="M446.38 406.36L460.69 413.47" stroke="#505050" stroke-width="1.1" fill="none"/><path d="M462.84 414.54L457.13 413.88L459.08 412.67L458.87 410.39Z" fill="#2e2e2e"/><path d="M446.38 446.64L460.69 439.53" stroke="#505050" stroke-width="1.1" fill="none"/><path d="M462.84 438.46L458.87 442.61L459.08 440.33L457.13 439.12Z" fill="#2e2e2e"/><path d="M607.82 406.36L593.51 413.47" stroke="#505050" stroke-width="1.1" fill="none"/><path d="M591.36 414.54L595.33 410.39L595.12 412.67L597.07 413.88Z" fill="#2e2e2e"/><path d="M607.82 446.64L593.51 439.53" stroke="#505050" stroke-width="1.1" fill="none"/><path d="M591.36 438.46L597.07 439.12L595.12 440.33L595.33 442.61Z" fill="#2e2e2e"/><path d="M466.56 406.36L481.96 406.63" stroke="#505050" stroke-width="1.1" fill="none"/><path d="M484.36 406.67L478.93 408.52L480.16 406.59L478.99 404.62Z" fill="#2e2e2e"/><path d="M466.56 446.64L481.96 446.37" stroke="#505050" stroke-width="1.1" fill="none"/><path d="M484.36 446.33L478.99 448.38L480.16 446.41L478.93 444.48Z" fill="#2e2e2e"/><path d="M587.64 406.36L572.24 406.63" stroke="#505050" stroke-width="1.1" fill="none"/><path d="M569.84 406.67L575.21 404.62L574.04 406.59L575.27 408.52Z" fill="#2e2e2e"/><path d="M587.64 446.64L572.24 446.37" stroke="#505050" stroke-width="1.1" fill="none"/><path d="M569.84 446.33L575.27 444.48L574.04 446.41L575.21 448.38Z" fill="#2e2e2e"/><path d="M486.74 406.36L501.52 402.02" stroke="#505050" stroke-width="1.1" fill="none"/><path d="M503.82 401.35L499.19 404.74L499.79 402.53L498.09 401.00Z" fill="#2e2e2e"/><path d="M486.74 446.64L501.52 450.98" stroke="#505050" stroke-width="1.1" fill="none"/><path d="M503.82 451.65L498.09 452.00L499.79 450.47L499.19 448.26Z" fill="#2e2e2e"/><path d="M567.46 406.36L552.68 402.02" stroke="#505050" stroke-width="1.1" fill="none"/><path d="M550.38 401.35L556.11 401.00L554.41 402.53L555.01 404.74Z" fill="#2e2e2e"/><path d="M567.46 446.64L552.68 450.98" stroke="#505050" stroke-width="1.1" fill="none"/><path d="M550.38 451.65L555.01 448.26L554.41 450.47L556.11 452.00Z" fill="#2e2e2e"/><path d="M506.92 406.36L517.41 395.87" stroke="#505050" stroke-width="1.1" fill="none"/><path d="M519.10 394.18L516.66 399.37L516.13 397.15L513.91 396.62Z" fill="#2e2e2e"/><path d="M506.92 446.64L517.41 457.13" stroke="#505050" stroke-width="1.1" fill="none"/><path d="M519.10 458.82L513.91 456.38L516.13 455.85L516.66 453.63Z" fill="#2e2e2e"/><path d="M547.28 406.36L536.79 395.87" stroke="#505050" stroke-width="1.1" fill="none"/><path d="M535.10 394.18L540.29 396.62L538.07 397.15L537.54 399.37Z" fill="#2e2e2e"/><path d="M547.28 446.64L536.79 457.13" stroke="#505050" stroke-width="1.1" fill="none"/><path d="M535.10 458.82L537.54 453.63L538.07 455.85L540.29 456.38Z" fill="#2e2e2e"/><path d="M527.10 406.36L527.10 392.36" stroke="#505050" stroke-width="1.1" fill="none"/><path d="M527.10 389.96L529.05 395.36L527.10 394.16L525.15 395.36Z" fill="#2e2e2e"/><path d="M527.10 446.64L527.10 460.64" stroke="#505050" stroke-width="1.1" fill="none"/><path d="M527.10 463.04L525.15 457.64L527.10 458.84L529.05 457.64Z" fill="#2e2e2e"/><path d="M446.38 426.50L462.58 426.50" stroke="#505050" stroke-width="1.1" fill="none"/><path d="M464.98 426.50L459.58 428.45L460.78 426.50L459.58 424.55Z" fill="#2e2e2e"/><path d="M607.82 426.50L591.62 426.50" stroke="#505050" stroke-width="1.1" fill="none"/><path d="M589.22 426.50L594.62 424.55L593.42 426.50L594.62 428.45Z" fill="#2e2e2e"/><path d="M466.56 426.50L482.46 426.50" stroke="#505050" stroke-width="1.1" fill="none"/><path d="M484.86 426.50L479.46 428.45L480.66 426.50L479.46 424.55Z" fill="#2e2e2e"/><path d="M587.64 426.50L571.74 426.50" stroke="#505050" stroke-width="1.1" fill="none"/><path d="M569.34 426.50L574.74 424.55L573.54 426.50L574.74 428.45Z" fill="#2e2e2e"/><path d="M486.74 426.50L502.64 426.50" stroke="#505050" stroke-width="1.1" fill="none"/><path d="M505.04 426.50L499.64 428.45L500.84 426.50L499.64 424.55Z" fill="#2e2e2e"/><path d="M567.46 426.50L551.56 426.50" stroke="#505050" stroke-width="1.1" fill="none"/><path d="M549.16 426.50L554.56 424.55L553.36 426.50L554.56 428.45Z" fill="#2e2e2e"/><path d="M506.92 426.50L522.82 426.50" stroke="#505050" stroke-width="1.1" fill="none"/><path d="M525.22 426.50L519.82 428.45L521.02 426.50L519.82 424.55Z" fill="#2e2e2e"/><path d="M547.28 426.50L531.38 426.50" stroke="#505050" stroke-width="1.1" fill="none"/><path d="M528.98 426.50L534.38 424.55L533.18 426.50L534.38 428.45Z" fill="#2e2e2e"/>
<text x="526.90" y="434.80" font-size="22" font-family="Liberation Sans, sans-serif" fill="#e6782f" text-anchor="middle" font-weight="bold">Z</text>
<rect x="426.20" y="325.80" width="201.80" height="201.40" fill="none" stroke="#000" stroke-width="2.2"/>
<path d="M427.20 507.06h5.6M446.38 526.20v-5.2M427.20 466.78h5.6M486.74 526.20v-5.2M427.20 426.50h5.6M527.10 526.20v-5.2M427.20 386.22h5.6M567.46 526.20v-5.2M427.20 345.94h5.6M607.82 526.20v-5.2" stroke="#333" stroke-width="1.3"/>
<text x="413.60" y="351.84" font-size="16.2" font-family="Liberation Sans, sans-serif" fill="#111" text-anchor="end" >0.4</text>
<text x="413.60" y="392.12" font-size="16.2" font-family="Liberation Sans, sans-serif" fill="#111" text-anchor="end" >0.2</text>
<text x="413.60" y="432.40" font-size="16.2" font-family="Liberation Sans, sans-serif" fill="#111" text-anchor="end" >0</text>
<text x="413.60" y="472.68" font-size="16.2" font-family="Liberation Sans, sans-serif" fill="#111" text-anchor="end" >-0.2</text>
<text x="413.60" y="512.96" font-size="16.2" font-family="Liberation Sans, sans-serif" fill="#111" text-anchor="end" >-0.4</text>
<text x="446.98" y="562.00" font-size="16.2" font-family="Liberation Sans, sans-serif" fill="#111" text-anchor="middle" >-0.4</text>
<text x="487.14" y="562.00" font-size="16.2" font-family="Liberation Sans, sans-serif" fill="#111" text-anchor="middle" >-0.2</text>
<text x="529.30" y="562.00" font-size="16.2" font-family="Liberation Sans, sans-serif" fill="#111" text-anchor="middle" >0</text>
<text x="569.36" y="562.00" font-size="16.2" font-family="Liberation Sans, sans-serif" fill="#111" text-anchor="middle" >0.2</text>
<text x="609.52" y="562.00" font-size="16.2" font-family="Liberation Sans, sans-serif" fill="#111" text-anchor="middle" >0.4</text>
<text x="518.60" y="582.90" font-size="21" font-family="Liberation Serif, serif" font-style="italic" fill="#111">k<tspan font-size="17" dx="1.4" dy="4.6">x</tspan></text>
<text transform="translate(378.60 440.70) rotate(-90)" font-size="21" font-family="Liberation Serif, serif" font-style="italic" fill="#111">k<tspan font-size="17" dx="2.2" dy="3.2">y</tspan></text>
<text x="425.40" y="320.60" font-size="20" font-family="Liberation Sans, sans-serif" fill="#111" text-anchor="start" >Global</text>
<text x="360.50" y="329.90" font-size="27" font-family="Liberation Sans, sans-serif" fill="#000" text-anchor="start" font-weight="bold">c</text>
<rect x="632.30" y="325.80" width="10.8" height="201.40" fill="url(#cbg)" stroke="#333" stroke-width="0.9"/>
<path d="M632.30 376.15h10.8M632.30 426.50h10.8M632.30 476.85h10.8" stroke="#333" stroke-width="1.1"/>
<text x="656.20" y="331.80" font-size="16.2" font-family="Liberation Sans, sans-serif" fill="#111" text-anchor="start" >1</text>
<text x="655.90" y="382.15" font-size="16.2" font-family="Liberation Sans, sans-serif" fill="#111" text-anchor="start" >0.5</text>
<text x="655.90" y="432.50" font-size="16.2" font-family="Liberation Sans, sans-serif" fill="#111" text-anchor="start" >0</text>
<text x="651.70" y="482.85" font-size="16.2" font-family="Liberation Sans, sans-serif" fill="#111" text-anchor="start" >-0.5</text>
<text x="651.70" y="533.20" font-size="16.2" font-family="Liberation Sans, sans-serif" fill="#111" text-anchor="start" >-1</text>
<path d="M624.70 303.20L620.70 312.70L624.70 322.20M647.10 303.20L651.10 312.70L647.10 322.20" stroke="#111" stroke-width="1.2" fill="none"/>
<text x="625.60" y="318.20" font-size="21" font-family="Liberation Serif, serif" font-style="italic" fill="#111">S<tspan font-size="17" dy="4">z</tspan></text>
<path d="M103.20 634.72L96.77 637.12" stroke="#505050" stroke-width="1.1" fill="none"/><path d="M94.53 637.96L97.80 634.94L97.26 636.94L98.97 638.10Z" fill="#2e2e2e"/><path d="M103.20 795.68L96.77 793.28" stroke="#505050" stroke-width="1.1" fill="none"/><path d="M94.53 792.44L98.97 792.31L97.26 793.46L97.80 795.46Z" fill="#2e2e2e"/><path d="M264.80 634.72L271.23 637.12" stroke="#505050" stroke-width="1.1" fill="none"/><path d="M273.47 637.96L269.03 638.10L270.74 636.94L270.20 634.94Z" fill="#2e2e2e"/><path d="M264.80 795.68L271.23 793.28" stroke="#505050" stroke-width="1.1" fill="none"/><path d="M273.47 792.44L270.20 795.46L270.74 793.46L269.03 792.31Z" fill="#2e2e2e"/><path d="M123.40 634.72L113.40 634.47" stroke="#505050" stroke-width="1.1" fill="none"/><path d="M111.00 634.41L116.45 632.60L115.20 634.51L116.35 636.49Z" fill="#2e2e2e"/><path d="M123.40 795.68L113.40 795.93" stroke="#505050" stroke-width="1.1" fill="none"/><path d="M111.00 795.99L116.35 793.91L115.20 795.89L116.45 797.80Z" fill="#2e2e2e"/><path d="M244.60 634.72L254.60 634.47" stroke="#505050" stroke-width="1.1" fill="none"/><path d="M257.00 634.41L251.65 636.49L252.80 634.51L251.55 632.60Z" fill="#2e2e2e"/><path d="M244.60 795.68L254.60 795.93" stroke="#505050" stroke-width="1.1" fill="none"/><path d="M257.00 795.99L251.55 797.80L252.80 795.89L251.65 793.91Z" fill="#2e2e2e"/><path d="M142.34 634.39L145.19 633.80L144.52 636.31Z" fill="#2e2e2e"/><path d="M142.34 796.01L144.52 794.09L145.19 796.60Z" fill="#2e2e2e"/><path d="M225.66 634.39L223.48 636.31L222.81 633.80Z" fill="#2e2e2e"/><path d="M225.66 796.01L222.81 796.60L223.48 794.09Z" fill="#2e2e2e"/><path d="M164.31 633.53L164.48 636.43L162.09 635.40Z" fill="#2e2e2e"/><path d="M164.31 796.87L162.09 795.00L164.48 793.97Z" fill="#2e2e2e"/><path d="M203.69 633.53L205.91 635.40L203.52 636.43Z" fill="#2e2e2e"/><path d="M203.69 796.87L203.52 793.97L205.91 795.00Z" fill="#2e2e2e"/><path d="M184.00 633.42L185.30 636.02L182.70 636.02Z" fill="#2e2e2e"/><path d="M184.00 796.98L182.70 794.38L185.30 794.38Z" fill="#2e2e2e"/><path d="M103.20 654.84L101.29 657.43" stroke="#505050" stroke-width="1.1" fill="none"/><path d="M99.86 659.36L100.60 656.68L100.69 658.24L102.21 657.86Z" fill="#2e2e2e"/><path d="M103.20 775.56L101.29 772.97" stroke="#505050" stroke-width="1.1" fill="none"/><path d="M99.86 771.04L102.21 772.54L100.69 772.16L100.60 773.72Z" fill="#2e2e2e"/><path d="M264.80 654.84L266.71 657.43" stroke="#505050" stroke-width="1.1" fill="none"/><path d="M268.14 659.36L265.79 657.86L267.31 658.24L267.40 656.68Z" fill="#2e2e2e"/><path d="M264.80 775.56L266.71 772.97" stroke="#505050" stroke-width="1.1" fill="none"/><path d="M268.14 771.04L267.40 773.72L267.31 772.16L265.79 772.54Z" fill="#2e2e2e"/><path d="M123.40 654.84L117.50 654.84" stroke="#505050" stroke-width="1.1" fill="none"/><path d="M115.10 654.84L118.82 653.34L117.62 654.84L118.82 656.34Z" fill="#2e2e2e"/><path d="M123.40 775.56L117.50 775.56" stroke="#505050" stroke-width="1.1" fill="none"/><path d="M115.10 775.56L118.82 774.06L117.62 775.56L118.82 777.06Z" fill="#2e2e2e"/><path d="M244.60 654.84L250.50 654.84" stroke="#505050" stroke-width="1.1" fill="none"/><path d="M252.90 654.84L249.18 656.34L250.38 654.84L249.18 653.34Z" fill="#2e2e2e"/><path d="M244.60 775.56L250.50 775.56" stroke="#505050" stroke-width="1.1" fill="none"/><path d="M252.90 775.56L249.18 777.06L250.38 775.56L249.18 774.06Z" fill="#2e2e2e"/><path d="M143.60 653.54L144.90 656.14L142.30 656.14Z" fill="#2e2e2e"/><path d="M143.60 776.86L142.30 774.26L144.90 774.26Z" fill="#2e2e2e"/><path d="M224.40 653.54L225.70 656.14L223.10 656.14Z" fill="#2e2e2e"/><path d="M224.40 776.86L223.10 774.26L225.70 774.26Z" fill="#2e2e2e"/><path d="M163.80 653.54L165.10 656.14L162.50 656.14Z" fill="#2e2e2e"/><path d="M163.80 776.86L162.50 774.26L165.10 774.26Z" fill="#2e2e2e"/><path d="M204.20 653.54L205.50 656.14L202.90 656.14Z" fill="#2e2e2e"/><path d="M204.20 776.86L202.90 774.26L205.50 774.26Z" fill="#2e2e2e"/><path d="M184.00 653.54L185.30 656.14L182.70 656.14Z" fill="#2e2e2e"/><path d="M184.00 776.86L182.70 774.26L185.30 774.26Z" fill="#2e2e2e"/><path d="M103.20 674.96L108.20 688.39" stroke="#505050" stroke-width="1.1" fill="none"/><path d="M109.04 690.63L105.33 686.26L107.57 686.70L108.98 684.89Z" fill="#2e2e2e"/><path d="M103.20 755.44L108.20 742.01" stroke="#505050" stroke-width="1.1" fill="none"/><path d="M109.04 739.77L108.98 745.51L107.57 743.70L105.33 744.14Z" fill="#2e2e2e"/><path d="M264.80 674.96L259.80 688.39" stroke="#505050" stroke-width="1.1" fill="none"/><path d="M258.96 690.63L259.02 684.89L260.43 686.70L262.67 686.26Z" fill="#2e2e2e"/><path d="M264.80 755.44L259.80 742.01" stroke="#505050" stroke-width="1.1" fill="none"/><path d="M258.96 739.77L262.67 744.14L260.43 743.70L259.02 745.51Z" fill="#2e2e2e"/><path d="M123.40 674.96L136.90 675.83" stroke="#505050" stroke-width="1.1" fill="none"/><path d="M139.30 675.99L133.78 677.58L135.11 675.72L134.04 673.69Z" fill="#2e2e2e"/><path d="M123.40 755.44L136.90 754.57" stroke="#505050" stroke-width="1.1" fill="none"/><path d="M139.30 754.41L134.04 756.71L135.11 754.68L133.78 752.82Z" fill="#2e2e2e"/><path d="M244.60 674.96L231.10 675.83" stroke="#505050" stroke-width="1.1" fill="none"/><path d="M228.70 675.99L233.96 673.69L232.89 675.72L234.22 677.58Z" fill="#2e2e2e"/><path d="M244.60 755.44L231.10 754.57" stroke="#505050" stroke-width="1.1" fill="none"/><path d="M228.70 754.41L234.22 752.82L232.89 754.68L233.96 756.71Z" fill="#2e2e2e"/><path d="M143.60 674.96L147.13 671.22" stroke="#505050" stroke-width="1.1" fill="none"/><path d="M148.77 669.47L147.43 672.88L147.26 671.07L145.45 671.01Z" fill="#2e2e2e"/><path d="M143.60 755.44L147.13 759.18" stroke="#505050" stroke-width="1.1" fill="none"/><path d="M148.77 760.93L145.45 759.39L147.26 759.33L147.43 757.53Z" fill="#2e2e2e"/><path d="M224.40 674.96L220.87 671.22" stroke="#505050" stroke-width="1.1" fill="none"/><path d="M219.23 669.47L222.55 671.01L220.74 671.07L220.57 672.88Z" fill="#2e2e2e"/><path d="M224.40 755.44L220.87 759.18" stroke="#505050" stroke-width="1.1" fill="none"/><path d="M219.23 760.93L220.57 757.53L220.74 759.33L222.55 759.39Z" fill="#2e2e2e"/><path d="M164.13 673.70L164.72 676.55L162.21 675.88Z" fill="#2e2e2e"/><path d="M164.13 756.70L162.21 754.52L164.72 753.85Z" fill="#2e2e2e"/><path d="M203.87 673.70L205.79 675.88L203.28 676.55Z" fill="#2e2e2e"/><path d="M203.87 756.70L203.28 753.85L205.79 754.52Z" fill="#2e2e2e"/><path d="M184.00 673.66L185.30 676.26L182.70 676.26Z" fill="#2e2e2e"/><path d="M184.00 756.74L182.70 754.14L185.30 754.14Z" fill="#2e2e2e"/><path d="M103.20 695.08L116.30 701.50" stroke="#505050" stroke-width="1.1" fill="none"/><path d="M118.46 702.56L112.75 701.93L114.69 700.71L114.47 698.43Z" fill="#2e2e2e"/><path d="M103.20 735.32L116.30 728.90" stroke="#505050" stroke-width="1.1" fill="none"/><path d="M118.46 727.84L114.47 731.97L114.69 729.69L112.75 728.47Z" fill="#2e2e2e"/><path d="M264.80 695.08L251.70 701.50" stroke="#505050" stroke-width="1.1" fill="none"/><path d="M249.54 702.56L253.53 698.43L253.31 700.71L255.25 701.93Z" fill="#2e2e2e"/><path d="M264.80 735.32L251.70 728.90" stroke="#505050" stroke-width="1.1" fill="none"/><path d="M249.54 727.84L255.25 728.47L253.31 729.69L253.53 731.97Z" fill="#2e2e2e"/><path d="M123.40 695.08L137.30 695.08" stroke="#505050" stroke-width="1.1" fill="none"/><path d="M139.70 695.08L134.30 697.03L135.50 695.08L134.30 693.13Z" fill="#2e2e2e"/><path d="M123.40 735.32L137.30 735.32" stroke="#505050" stroke-width="1.1" fill="none"/><path d="M139.70 735.32L134.30 737.27L135.50 735.32L134.30 733.37Z" fill="#2e2e2e"/><path d="M244.60 695.08L230.70 695.08" stroke="#505050" stroke-width="1.1" fill="none"/><path d="M228.30 695.08L233.70 693.13L232.50 695.08L233.70 697.03Z" fill="#2e2e2e"/><path d="M244.60 735.32L230.70 735.32" stroke="#505050" stroke-width="1.1" fill="none"/><path d="M228.30 735.32L233.70 733.37L232.50 735.32L233.70 737.27Z" fill="#2e2e2e"/><path d="M143.60 695.08L155.79 691.36" stroke="#505050" stroke-width="1.1" fill="none"/><path d="M158.08 690.66L153.49 694.10L154.07 691.89L152.35 690.37Z" fill="#2e2e2e"/><path d="M143.60 735.32L155.79 739.04" stroke="#505050" stroke-width="1.1" fill="none"/><path d="M158.08 739.74L152.35 740.03L154.07 738.51L153.49 736.30Z" fill="#2e2e2e"/><path d="M224.40 695.08L212.21 691.36" stroke="#505050" stroke-width="1.1" fill="none"/><path d="M209.92 690.66L215.65 690.37L213.93 691.89L214.51 694.10Z" fill="#2e2e2e"/><path d="M224.40 735.32L212.21 739.04" stroke="#505050" stroke-width="1.1" fill="none"/><path d="M209.92 739.74L214.51 736.30L213.93 738.51L215.65 740.03Z" fill="#2e2e2e"/><path d="M163.80 695.08L168.06 691.56" stroke="#505050" stroke-width="1.1" fill="none"/><path d="M169.91 690.02L168.08 693.40L168.09 691.53L166.25 691.19Z" fill="#2e2e2e"/><path d="M163.80 735.32L168.06 738.84" stroke="#505050" stroke-width="1.1" fill="none"/><path d="M169.91 740.38L166.25 739.21L168.09 738.87L168.08 737.00Z" fill="#2e2e2e"/><path d="M204.20 695.08L199.94 691.56" stroke="#505050" stroke-width="1.1" fill="none"/><path d="M198.09 690.02L201.75 691.19L199.91 691.53L199.92 693.40Z" fill="#2e2e2e"/><path d="M204.20 735.32L199.94 738.84" stroke="#505050" stroke-width="1.1" fill="none"/><path d="M198.09 740.38L199.92 737.00L199.91 738.87L201.75 739.21Z" fill="#2e2e2e"/><path d="M184.00 693.78L185.30 696.38L182.70 696.38Z" fill="#2e2e2e"/><path d="M184.00 736.62L182.70 734.02L185.30 734.02Z" fill="#2e2e2e"/><path d="M103.20 715.20L118.00 715.20" stroke="#505050" stroke-width="1.1" fill="none"/><path d="M120.40 715.20L115.00 717.15L116.20 715.20L115.00 713.25Z" fill="#2e2e2e"/><path d="M264.80 715.20L250.00 715.20" stroke="#505050" stroke-width="1.1" fill="none"/><path d="M247.60 715.20L253.00 713.25L251.80 715.20L253.00 717.15Z" fill="#2e2e2e"/><path d="M123.40 715.20L137.40 715.20" stroke="#505050" stroke-width="1.1" fill="none"/><path d="M139.80 715.20L134.40 717.15L135.60 715.20L134.40 713.25Z" fill="#2e2e2e"/><path d="M244.60 715.20L230.60 715.20" stroke="#505050" stroke-width="1.1" fill="none"/><path d="M228.20 715.20L233.60 713.25L232.40 715.20L233.60 717.15Z" fill="#2e2e2e"/><path d="M143.60 715.20L157.40 715.20" stroke="#505050" stroke-width="1.1" fill="none"/><path d="M159.80 715.20L154.40 717.15L155.60 715.20L154.40 713.25Z" fill="#2e2e2e"/><path d="M224.40 715.20L210.60 715.20" stroke="#505050" stroke-width="1.1" fill="none"/><path d="M208.20 715.20L213.60 713.25L212.40 715.20L213.60 717.15Z" fill="#2e2e2e"/><path d="M163.80 715.20L176.80 715.20" stroke="#505050" stroke-width="1.1" fill="none"/><path d="M179.20 715.20L173.80 717.15L175.00 715.20L173.80 713.25Z" fill="#2e2e2e"/><path d="M204.20 715.20L191.20 715.20" stroke="#505050" stroke-width="1.1" fill="none"/><path d="M188.80 715.20L194.20 713.25L193.00 715.20L194.20 717.15Z" fill="#2e2e2e"/>
<text x="183.80" y="723.50" font-size="22" font-family="Liberation Sans, sans-serif" fill="#e6782f" text-anchor="middle" font-weight="bold">Z</text>
<rect x="83.00" y="614.60" width="202.00" height="201.20" fill="none" stroke="#000" stroke-width="2.2"/>
<path d="M84.00 795.68h5.6M103.20 814.80v-5.2M84.00 755.44h5.6M143.60 814.80v-5.2M84.00 715.20h5.6M184.00 814.80v-5.2M84.00 674.96h5.6M224.40 814.80v-5.2M84.00 634.72h5.6M264.80 814.80v-5.2" stroke="#333" stroke-width="1.3"/>
<text x="70.40" y="640.62" font-size="16.2" font-family="Liberation Sans, sans-serif" fill="#111" text-anchor="end" >0.4</text>
<text x="70.40" y="680.86" font-size="16.2" font-family="Liberation Sans, sans-serif" fill="#111" text-anchor="end" >0.2</text>
<text x="70.40" y="721.10" font-size="16.2" font-family="Liberation Sans, sans-serif" fill="#111" text-anchor="end" >0</text>
<text x="70.40" y="761.34" font-size="16.2" font-family="Liberation Sans, sans-serif" fill="#111" text-anchor="end" >-0.2</text>
<text x="70.40" y="801.58" font-size="16.2" font-family="Liberation Sans, sans-serif" fill="#111" text-anchor="end" >-0.4</text>
<text x="103.80" y="850.60" font-size="16.2" font-family="Liberation Sans, sans-serif" fill="#111" text-anchor="middle" >-0.4</text>
<text x="144.00" y="850.60" font-size="16.2" font-family="Liberation Sans, sans-serif" fill="#111" text-anchor="middle" >-0.2</text>
<text x="186.20" y="850.60" font-size="16.2" font-family="Liberation Sans, sans-serif" fill="#111" text-anchor="middle" >0</text>
<text x="226.30" y="850.60" font-size="16.2" font-family="Liberation Sans, sans-serif" fill="#111" text-anchor="middle" >0.2</text>
<text x="266.50" y="850.60" font-size="16.2" font-family="Liberation Sans, sans-serif" fill="#111" text-anchor="middle" >0.4</text>
<text x="175.50" y="871.50" font-size="21" font-family="Liberation Serif, serif" font-style="italic" fill="#111">k<tspan font-size="17" dx="1.4" dy="4.6">x</tspan></text>
<text transform="translate(35.40 729.40) rotate(-90)" font-size="21" font-family="Liberation Serif, serif" font-style="italic" fill="#111">k<tspan font-size="17" dx="2.2" dy="3.2">y</tspan></text>
<text x="84.30" y="607.20" font-size="20" font-family="Liberation Sans, sans-serif" fill="#111" text-anchor="start" >Site 1</text>
<text x="-0.50" y="610.30" font-size="27" font-family="Liberation Sans, sans-serif" fill="#000" text-anchor="start" font-weight="bold">d</text>
<rect x="289.90" y="614.60" width="10.8" height="201.20" fill="url(#cbg)" stroke="#333" stroke-width="0.9"/>
<path d="M289.90 664.90h10.8M289.90 715.20h10.8M289.90 765.50h10.8" stroke="#333" stroke-width="1.1"/>
<text x="313.80" y="620.60" font-size="16.2" font-family="Liberation Sans, sans-serif" fill="#111" text-anchor="start" >1</text>
<text x="313.50" y="670.90" font-size="16.2" font-family="Liberation Sans, sans-serif" fill="#111" text-anchor="start" >0.5</text>
<text x="313.50" y="721.20" font-size="16.2" font-family="Liberation Sans, sans-serif" fill="#111" text-anchor="start" >0</text>
<text x="309.30" y="771.50" font-size="16.2" font-family="Liberation Sans, sans-serif" fill="#111" text-anchor="start" >-0.5</text>
<text x="309.30" y="821.80" font-size="16.2" font-family="Liberation Sans, sans-serif" fill="#111" text-anchor="start" >-1</text>
<path d="M282.00 592.00L278.00 601.50L282.00 611.00M304.40 592.00L308.40 601.50L304.40 611.00" stroke="#111" stroke-width="1.2" fill="none"/>
<text x="282.90" y="607.00" font-size="21" font-family="Liberation Serif, serif" font-style="italic" fill="#111">S<tspan font-size="17" dy="4">z</tspan></text>
<path d="M443.76 633.95L441.27 639.52" stroke="#505050" stroke-width="1.1" fill="none"/><path d="M440.30 641.72L440.44 637.62L441.36 639.34L443.25 638.87Z" fill="#2e2e2e"/><path d="M443.76 795.15L441.27 789.58" stroke="#505050" stroke-width="1.1" fill="none"/><path d="M440.30 787.38L443.25 790.23L441.36 789.76L440.44 791.48Z" fill="#2e2e2e"/><path d="M605.04 633.95L607.53 639.52" stroke="#505050" stroke-width="1.1" fill="none"/><path d="M608.50 641.72L605.55 638.87L607.44 639.34L608.36 637.62Z" fill="#2e2e2e"/><path d="M605.04 795.15L607.53 789.58" stroke="#505050" stroke-width="1.1" fill="none"/><path d="M608.50 787.38L608.36 791.48L607.44 789.76L605.55 790.23Z" fill="#2e2e2e"/><path d="M463.92 633.95L461.67 635.19" stroke="#505050" stroke-width="1.1" fill="none"/><path d="M459.57 636.34L461.37 634.21L460.80 635.67L462.33 635.97Z" fill="#2e2e2e"/><path d="M463.92 795.15L461.67 793.91" stroke="#505050" stroke-width="1.1" fill="none"/><path d="M459.57 792.76L462.33 793.13L460.80 793.43L461.37 794.89Z" fill="#2e2e2e"/><path d="M584.88 633.95L587.13 635.19" stroke="#505050" stroke-width="1.1" fill="none"/><path d="M589.23 636.34L586.47 635.97L588.00 635.67L587.43 634.21Z" fill="#2e2e2e"/><path d="M584.88 795.15L587.13 793.91" stroke="#505050" stroke-width="1.1" fill="none"/><path d="M589.23 792.76L587.43 794.89L588.00 793.43L586.47 793.13Z" fill="#2e2e2e"/><path d="M484.08 633.95L471.05 628.96" stroke="#505050" stroke-width="1.1" fill="none"/><path d="M468.81 628.11L474.55 628.22L472.73 629.61L473.15 631.86Z" fill="#2e2e2e"/><path d="M484.08 795.15L471.05 800.14" stroke="#505050" stroke-width="1.1" fill="none"/><path d="M468.81 800.99L473.15 797.24L472.73 799.49L474.55 800.88Z" fill="#2e2e2e"/><path d="M564.72 633.95L577.75 628.96" stroke="#505050" stroke-width="1.1" fill="none"/><path d="M579.99 628.11L575.65 631.86L576.07 629.61L574.25 628.22Z" fill="#2e2e2e"/><path d="M564.72 795.15L577.75 800.14" stroke="#505050" stroke-width="1.1" fill="none"/><path d="M579.99 800.99L574.25 800.88L576.07 799.49L575.65 797.24Z" fill="#2e2e2e"/><path d="M504.24 633.95L497.73 620.84" stroke="#505050" stroke-width="1.1" fill="none"/><path d="M496.66 618.69L500.81 622.66L498.53 622.45L497.32 624.40Z" fill="#2e2e2e"/><path d="M504.24 795.15L497.73 808.26" stroke="#505050" stroke-width="1.1" fill="none"/><path d="M496.66 810.41L497.32 804.70L498.53 806.65L500.81 806.44Z" fill="#2e2e2e"/><path d="M544.56 633.95L551.07 620.84" stroke="#505050" stroke-width="1.1" fill="none"/><path d="M552.14 618.69L551.48 624.40L550.27 622.45L547.99 622.66Z" fill="#2e2e2e"/><path d="M544.56 795.15L551.07 808.26" stroke="#505050" stroke-width="1.1" fill="none"/><path d="M552.14 810.41L547.99 806.44L550.27 806.65L551.48 804.70Z" fill="#2e2e2e"/><path d="M524.40 633.95L524.40 619.55" stroke="#505050" stroke-width="1.1" fill="none"/><path d="M524.40 617.15L526.35 622.55L524.40 621.35L522.45 622.55Z" fill="#2e2e2e"/><path d="M524.40 795.15L524.40 809.55" stroke="#505050" stroke-width="1.1" fill="none"/><path d="M524.40 811.95L522.45 806.55L524.40 807.75L526.35 806.55Z" fill="#2e2e2e"/><path d="M443.76 654.10L444.09 663.90" stroke="#505050" stroke-width="1.1" fill="none"/><path d="M444.17 666.30L442.04 660.97L444.03 662.10L445.94 660.84Z" fill="#2e2e2e"/><path d="M443.76 775.00L444.09 765.20" stroke="#505050" stroke-width="1.1" fill="none"/><path d="M444.17 762.80L445.94 768.26L444.03 767.00L442.04 768.13Z" fill="#2e2e2e"/><path d="M605.04 654.10L604.71 663.90" stroke="#505050" stroke-width="1.1" fill="none"/><path d="M604.63 666.30L602.86 660.84L604.77 662.10L606.76 660.97Z" fill="#2e2e2e"/><path d="M605.04 775.00L604.71 765.20" stroke="#505050" stroke-width="1.1" fill="none"/><path d="M604.63 762.80L606.76 768.13L604.77 767.00L602.86 768.26Z" fill="#2e2e2e"/><path d="M463.92 654.10L463.92 659.40" stroke="#505050" stroke-width="1.1" fill="none"/><path d="M463.92 661.80L462.53 658.33L463.92 659.53L465.31 658.33Z" fill="#2e2e2e"/><path d="M463.92 775.00L463.92 769.70" stroke="#505050" stroke-width="1.1" fill="none"/><path d="M463.92 767.30L465.31 770.77L463.92 769.57L462.53 770.77Z" fill="#2e2e2e"/><path d="M584.88 654.10L584.88 659.40" stroke="#505050" stroke-width="1.1" fill="none"/><path d="M584.88 661.80L583.49 658.33L584.88 659.53L586.27 658.33Z" fill="#2e2e2e"/><path d="M584.88 775.00L584.88 769.70" stroke="#505050" stroke-width="1.1" fill="none"/><path d="M584.88 767.30L586.27 770.77L584.88 769.57L583.49 770.77Z" fill="#2e2e2e"/><path d="M484.08 654.10L483.47 640.10" stroke="#505050" stroke-width="1.1" fill="none"/><path d="M483.36 637.70L485.55 643.01L483.55 641.90L481.65 643.18Z" fill="#2e2e2e"/><path d="M484.08 775.00L483.47 789.00" stroke="#505050" stroke-width="1.1" fill="none"/><path d="M483.36 791.40L481.65 785.92L483.55 787.20L485.55 786.09Z" fill="#2e2e2e"/><path d="M564.72 654.10L565.33 640.10" stroke="#505050" stroke-width="1.1" fill="none"/><path d="M565.44 637.70L567.15 643.18L565.25 641.90L563.25 643.01Z" fill="#2e2e2e"/><path d="M564.72 775.00L565.33 789.00" stroke="#505050" stroke-width="1.1" fill="none"/><path d="M565.44 791.40L563.25 786.09L565.25 787.20L567.15 785.92Z" fill="#2e2e2e"/><path d="M504.24 654.10L504.24 640.10" stroke="#505050" stroke-width="1.1" fill="none"/><path d="M504.24 637.70L506.19 643.10L504.24 641.90L502.29 643.10Z" fill="#2e2e2e"/><path d="M504.24 775.00L504.24 789.00" stroke="#505050" stroke-width="1.1" fill="none"/><path d="M504.24 791.40L502.29 786.00L504.24 787.20L506.19 786.00Z" fill="#2e2e2e"/><path d="M544.56 654.10L544.56 640.10" stroke="#505050" stroke-width="1.1" fill="none"/><path d="M544.56 637.70L546.51 643.10L544.56 641.90L542.61 643.10Z" fill="#2e2e2e"/><path d="M544.56 775.00L544.56 789.00" stroke="#505050" stroke-width="1.1" fill="none"/><path d="M544.56 791.40L542.61 786.00L544.56 787.20L546.51 786.00Z" fill="#2e2e2e"/><path d="M524.40 654.10L524.40 640.10" stroke="#505050" stroke-width="1.1" fill="none"/><path d="M524.40 637.70L526.35 643.10L524.40 641.90L522.45 643.10Z" fill="#2e2e2e"/><path d="M524.40 775.00L524.40 789.00" stroke="#505050" stroke-width="1.1" fill="none"/><path d="M524.40 791.40L522.45 786.00L524.40 787.20L526.35 786.00Z" fill="#2e2e2e"/><path d="M444.95 674.76L442.05 674.93L443.08 672.54Z" fill="#2e2e2e"/><path d="M444.95 754.34L443.08 756.56L442.05 754.17Z" fill="#2e2e2e"/><path d="M603.85 674.76L605.72 672.54L606.75 674.93Z" fill="#2e2e2e"/><path d="M603.85 754.34L606.75 754.17L605.72 756.56Z" fill="#2e2e2e"/><path d="M465.19 674.50L462.39 675.27L462.90 672.72Z" fill="#2e2e2e"/><path d="M465.19 754.60L462.90 756.38L462.39 753.83Z" fill="#2e2e2e"/><path d="M583.61 674.50L585.90 672.72L586.41 675.27Z" fill="#2e2e2e"/><path d="M583.61 754.60L586.41 753.83L585.90 756.38Z" fill="#2e2e2e"/><path d="M484.08 674.25L488.59 670.19" stroke="#505050" stroke-width="1.1" fill="none"/><path d="M490.38 668.58L488.59 672.26L488.45 670.32L486.53 669.98Z" fill="#2e2e2e"/><path d="M484.08 754.85L488.59 758.91" stroke="#505050" stroke-width="1.1" fill="none"/><path d="M490.38 760.52L486.53 759.12L488.45 758.78L488.59 756.84Z" fill="#2e2e2e"/><path d="M564.72 674.25L560.21 670.19" stroke="#505050" stroke-width="1.1" fill="none"/><path d="M558.42 668.58L562.27 669.98L560.35 670.32L560.21 672.26Z" fill="#2e2e2e"/><path d="M564.72 754.85L560.21 758.91" stroke="#505050" stroke-width="1.1" fill="none"/><path d="M558.42 760.52L560.21 756.84L560.35 758.78L562.27 759.12Z" fill="#2e2e2e"/><path d="M504.24 674.25L508.24 661.46" stroke="#505050" stroke-width="1.1" fill="none"/><path d="M508.96 659.17L509.21 664.90L507.71 663.18L505.49 663.74Z" fill="#2e2e2e"/><path d="M504.24 754.85L508.24 767.64" stroke="#505050" stroke-width="1.1" fill="none"/><path d="M508.96 769.93L505.49 765.36L507.71 765.92L509.21 764.20Z" fill="#2e2e2e"/><path d="M544.56 674.25L540.56 661.46" stroke="#505050" stroke-width="1.1" fill="none"/><path d="M539.84 659.17L543.31 663.74L541.09 663.18L539.59 664.90Z" fill="#2e2e2e"/><path d="M544.56 754.85L540.56 767.64" stroke="#505050" stroke-width="1.1" fill="none"/><path d="M539.84 769.93L539.59 764.20L541.09 765.92L543.31 765.36Z" fill="#2e2e2e"/><path d="M524.40 674.25L524.40 661.25" stroke="#505050" stroke-width="1.1" fill="none"/><path d="M524.40 658.85L526.35 664.25L524.40 663.05L522.45 664.25Z" fill="#2e2e2e"/><path d="M524.40 754.85L524.40 767.85" stroke="#505050" stroke-width="1.1" fill="none"/><path d="M524.40 770.25L522.45 764.85L524.40 766.05L526.35 764.85Z" fill="#2e2e2e"/><path d="M445.03 694.65L442.23 695.42L442.74 692.87Z" fill="#2e2e2e"/><path d="M445.03 734.45L442.74 736.23L442.23 733.68Z" fill="#2e2e2e"/><path d="M603.77 694.65L606.06 692.87L606.57 695.42Z" fill="#2e2e2e"/><path d="M603.77 734.45L606.57 733.68L606.06 736.23Z" fill="#2e2e2e"/><path d="M465.21 694.57L462.46 695.52L462.80 692.94Z" fill="#2e2e2e"/><path d="M465.21 734.53L462.80 736.16L462.46 733.58Z" fill="#2e2e2e"/><path d="M583.59 694.57L586.00 692.94L586.34 695.52Z" fill="#2e2e2e"/><path d="M583.59 734.53L586.34 733.58L586.00 736.16Z" fill="#2e2e2e"/><path d="M485.38 694.49L482.70 695.61L482.87 693.02Z" fill="#2e2e2e"/><path d="M485.38 734.61L482.87 736.08L482.70 733.49Z" fill="#2e2e2e"/><path d="M563.42 694.49L565.93 693.02L566.10 695.61Z" fill="#2e2e2e"/><path d="M563.42 734.61L566.10 733.49L565.93 736.08Z" fill="#2e2e2e"/><path d="M504.24 694.40L508.31 689.80" stroke="#505050" stroke-width="1.1" fill="none"/><path d="M509.91 688.00L508.53 691.89L508.17 689.96L506.21 689.84Z" fill="#2e2e2e"/><path d="M504.24 734.70L508.31 739.30" stroke="#505050" stroke-width="1.1" fill="none"/><path d="M509.91 741.10L506.21 739.26L508.17 739.14L508.53 737.21Z" fill="#2e2e2e"/><path d="M544.56 694.40L540.49 689.80" stroke="#505050" stroke-width="1.1" fill="none"/><path d="M538.89 688.00L542.59 689.84L540.63 689.96L540.27 691.89Z" fill="#2e2e2e"/><path d="M544.56 734.70L540.49 739.30" stroke="#505050" stroke-width="1.1" fill="none"/><path d="M538.89 741.10L540.27 737.21L540.63 739.14L542.59 739.26Z" fill="#2e2e2e"/><path d="M524.40 694.40L524.40 682.10" stroke="#505050" stroke-width="1.1" fill="none"/><path d="M524.40 679.70L526.35 685.10L524.40 683.90L522.45 685.10Z" fill="#2e2e2e"/><path d="M524.40 734.70L524.40 747.00" stroke="#505050" stroke-width="1.1" fill="none"/><path d="M524.40 749.40L522.45 744.00L524.40 745.20L526.35 744.00Z" fill="#2e2e2e"/><path d="M445.06 714.55L442.46 715.85L442.46 713.25Z" fill="#2e2e2e"/><path d="M603.74 714.55L606.34 713.25L606.34 715.85Z" fill="#2e2e2e"/><path d="M465.22 714.55L462.62 715.85L462.62 713.25Z" fill="#2e2e2e"/><path d="M583.58 714.55L586.18 713.25L586.18 715.85Z" fill="#2e2e2e"/><path d="M485.38 714.55L482.78 715.85L482.78 713.25Z" fill="#2e2e2e"/><path d="M563.42 714.55L566.02 713.25L566.02 715.85Z" fill="#2e2e2e"/><path d="M505.54 714.55L502.94 715.85L502.94 713.25Z" fill="#2e2e2e"/><path d="M543.26 714.55L545.86 713.25L545.86 715.85Z" fill="#2e2e2e"/>
<text x="525.60" y="724.75" font-size="22" font-family="Liberation Sans, sans-serif" fill="#e6782f" text-anchor="middle" font-weight="bold">Z</text>
<rect x="423.60" y="613.80" width="201.60" height="201.50" fill="none" stroke="#000" stroke-width="2.2"/>
<path d="M424.60 795.15h5.6M443.76 814.30v-5.2M424.60 754.85h5.6M484.08 814.30v-5.2M424.60 714.55h5.6M524.40 814.30v-5.2M424.60 674.25h5.6M564.72 814.30v-5.2M424.60 633.95h5.6M605.04 814.30v-5.2" stroke="#333" stroke-width="1.3"/>
<text x="411.00" y="639.85" font-size="16.2" font-family="Liberation Sans, sans-serif" fill="#111" text-anchor="end" >0.4</text>
<text x="411.00" y="680.15" font-size="16.2" font-family="Liberation Sans, sans-serif" fill="#111" text-anchor="end" >0.2</text>
<text x="411.00" y="720.45" font-size="16.2" font-family="Liberation Sans, sans-serif" fill="#111" text-anchor="end" >0</text>
<text x="411.00" y="760.75" font-size="16.2" font-family="Liberation Sans, sans-serif" fill="#111" text-anchor="end" >-0.2</text>
<text x="411.00" y="801.05" font-size="16.2" font-family="Liberation Sans, sans-serif" fill="#111" text-anchor="end" >-0.4</text>
<text x="444.36" y="850.10" font-size="16.2" font-family="Liberation Sans, sans-serif" fill="#111" text-anchor="middle" >-0.4</text>
<text x="484.48" y="850.10" font-size="16.2" font-family="Liberation Sans, sans-serif" fill="#111" text-anchor="middle" >-0.2</text>
<text x="526.60" y="850.10" font-size="16.2" font-family="Liberation Sans, sans-serif" fill="#111" text-anchor="middle" >0</text>
<text x="566.62" y="850.10" font-size="16.2" font-family="Liberation Sans, sans-serif" fill="#111" text-anchor="middle" >0.2</text>
<text x="606.74" y="850.10" font-size="16.2" font-family="Liberation Sans, sans-serif" fill="#111" text-anchor="middle" >0.4</text>
<text x="515.90" y="871.00" font-size="21" font-family="Liberation Serif, serif" font-style="italic" fill="#111">k<tspan font-size="17" dx="1.4" dy="4.6">x</tspan></text>
<text transform="translate(376.00 728.75) rotate(-90)" font-size="21" font-family="Liberation Serif, serif" font-style="italic" fill="#111">k<tspan font-size="17" dx="2.2" dy="3.2">y</tspan></text>
<text x="428.80" y="605.80" font-size="20" font-family="Liberation Sans, sans-serif" fill="#111" text-anchor="start" >Site 2</text>
<text x="364.00" y="610.60" font-size="27" font-family="Liberation Sans, sans-serif" fill="#000" text-anchor="start" font-weight="bold">e</text>
<rect x="630.20" y="613.80" width="10.8" height="201.50" fill="url(#cbg)" stroke="#333" stroke-width="0.9"/>
<path d="M630.20 664.17h10.8M630.20 714.55h10.8M630.20 764.92h10.8" stroke="#333" stroke-width="1.1"/>
<text x="654.10" y="619.80" font-size="16.2" font-family="Liberation Sans, sans-serif" fill="#111" text-anchor="start" >1</text>
<text x="653.80" y="670.17" font-size="16.2" font-family="Liberation Sans, sans-serif" fill="#111" text-anchor="start" >0.5</text>
<text x="653.80" y="720.55" font-size="16.2" font-family="Liberation Sans, sans-serif" fill="#111" text-anchor="start" >0</text>
<text x="649.60" y="770.92" font-size="16.2" font-family="Liberation Sans, sans-serif" fill="#111" text-anchor="start" >-0.5</text>
<text x="649.60" y="821.30" font-size="16.2" font-family="Liberation Sans, sans-serif" fill="#111" text-anchor="start" >-1</text>
<path d="M622.60 591.20L618.60 600.70L622.60 610.20M645.00 591.20L649.00 600.70L645.00 610.20" stroke="#111" stroke-width="1.2" fill="none"/>
<text x="623.50" y="606.20" font-size="21" font-family="Liberation Serif, serif" font-style="italic" fill="#111">S<tspan font-size="17" dy="4">z</tspan></text>
</svg>
</body></html>
